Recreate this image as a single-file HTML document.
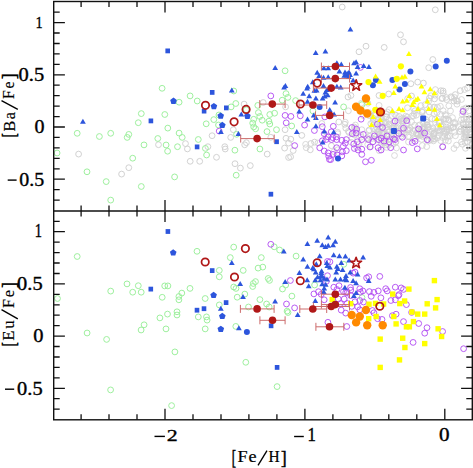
<!DOCTYPE html>
<html><head><meta charset="utf-8"><style>
html,body{margin:0;padding:0;background:#fff;}
body{width:473px;height:468px;overflow:hidden;font-family:"Liberation Serif",serif;}
svg{display:block;}
</style></head><body>
<svg width="473" height="468" viewBox="0 0 473 468">
<rect width="473" height="468" fill="#fff"/>
<defs><clipPath id="cu"><rect x="53.7" y="1.5" width="418.6" height="209.5"/></clipPath><clipPath id="cl"><rect x="53.7" y="211.0" width="418.6" height="208.8"/></clipPath></defs>
<path d="M81.1 1.5v5.5M81.1 211.0v-5.5M81.1 211.0v5.5M81.1 419.8v-5.5M109.0 1.5v5.5M109.0 211.0v-5.5M109.0 211.0v5.5M109.0 419.8v-5.5M137.0 1.5v5.5M137.0 211.0v-5.5M137.0 211.0v5.5M137.0 419.8v-5.5M165.0 1.5v11M165.0 211.0v-11M165.0 211.0v11M165.0 419.8v-11M193.0 1.5v5.5M193.0 211.0v-5.5M193.0 211.0v5.5M193.0 419.8v-5.5M221.0 1.5v5.5M221.0 211.0v-5.5M221.0 211.0v5.5M221.0 419.8v-5.5M248.9 1.5v5.5M248.9 211.0v-5.5M248.9 211.0v5.5M248.9 419.8v-5.5M276.9 1.5v5.5M276.9 211.0v-5.5M276.9 211.0v5.5M276.9 419.8v-5.5M304.9 1.5v11M304.9 211.0v-11M304.9 211.0v11M304.9 419.8v-11M332.9 1.5v5.5M332.9 211.0v-5.5M332.9 211.0v5.5M332.9 419.8v-5.5M360.9 1.5v5.5M360.9 211.0v-5.5M360.9 211.0v5.5M360.9 419.8v-5.5M388.8 1.5v5.5M388.8 211.0v-5.5M388.8 211.0v5.5M388.8 419.8v-5.5M416.8 1.5v5.5M416.8 211.0v-5.5M416.8 211.0v5.5M416.8 419.8v-5.5M444.8 1.5v11M444.8 211.0v-11M444.8 211.0v11M444.8 419.8v-11M53.7 200.1h6.0M472.3 200.1h-6.0M53.7 189.6h6.0M472.3 189.6h-6.0M53.7 179.2h11.2M472.3 179.2h-11.2M53.7 168.8h6.0M472.3 168.8h-6.0M53.7 158.3h6.0M472.3 158.3h-6.0M53.7 147.9h6.0M472.3 147.9h-6.0M53.7 137.4h6.0M472.3 137.4h-6.0M53.7 127.0h11.2M472.3 127.0h-11.2M53.7 116.6h6.0M472.3 116.6h-6.0M53.7 106.1h6.0M472.3 106.1h-6.0M53.7 95.7h6.0M472.3 95.7h-6.0M53.7 85.2h6.0M472.3 85.2h-6.0M53.7 74.8h11.2M472.3 74.8h-11.2M53.7 64.4h6.0M472.3 64.4h-6.0M53.7 53.9h6.0M472.3 53.9h-6.0M53.7 43.5h6.0M472.3 43.5h-6.0M53.7 33.0h6.0M472.3 33.0h-6.0M53.7 22.6h11.2M472.3 22.6h-11.2M53.7 12.2h6.0M472.3 12.2h-6.0M53.7 409.2h6.0M472.3 409.2h-6.0M53.7 398.7h6.0M472.3 398.7h-6.0M53.7 388.3h11.2M472.3 388.3h-11.2M53.7 377.9h6.0M472.3 377.9h-6.0M53.7 367.4h6.0M472.3 367.4h-6.0M53.7 357.0h6.0M472.3 357.0h-6.0M53.7 346.5h6.0M472.3 346.5h-6.0M53.7 336.1h11.2M472.3 336.1h-11.2M53.7 325.7h6.0M472.3 325.7h-6.0M53.7 315.2h6.0M472.3 315.2h-6.0M53.7 304.8h6.0M472.3 304.8h-6.0M53.7 294.3h6.0M472.3 294.3h-6.0M53.7 283.9h11.2M472.3 283.9h-11.2M53.7 273.5h6.0M472.3 273.5h-6.0M53.7 263.0h6.0M472.3 263.0h-6.0M53.7 252.6h6.0M472.3 252.6h-6.0M53.7 242.1h6.0M472.3 242.1h-6.0M53.7 231.7h11.2M472.3 231.7h-11.2M53.7 221.3h6.0M472.3 221.3h-6.0" stroke="#111" stroke-width="1.3" fill="none"/>
<g clip-path="url(#cu)">
<circle cx="422.0" cy="111.7" r="2.9" fill="none" stroke="#d2d2d2" stroke-width="0.85"/>
<circle cx="423.4" cy="122.7" r="2.9" fill="none" stroke="#d2d2d2" stroke-width="0.85"/>
<circle cx="427.6" cy="125.3" r="2.9" fill="none" stroke="#d2d2d2" stroke-width="0.85"/>
<circle cx="428.0" cy="127.1" r="2.9" fill="none" stroke="#d2d2d2" stroke-width="0.85"/>
<circle cx="439.6" cy="131.4" r="2.9" fill="none" stroke="#d2d2d2" stroke-width="0.85"/>
<circle cx="406.5" cy="125.4" r="2.9" fill="none" stroke="#d2d2d2" stroke-width="0.85"/>
<circle cx="381.8" cy="132.9" r="2.9" fill="none" stroke="#d2d2d2" stroke-width="0.85"/>
<circle cx="375.1" cy="115.6" r="2.9" fill="none" stroke="#d2d2d2" stroke-width="0.85"/>
<circle cx="472.4" cy="143.8" r="2.9" fill="none" stroke="#d2d2d2" stroke-width="0.85"/>
<circle cx="438.2" cy="127.6" r="2.9" fill="none" stroke="#d2d2d2" stroke-width="0.85"/>
<circle cx="390.0" cy="138.8" r="2.9" fill="none" stroke="#d2d2d2" stroke-width="0.85"/>
<circle cx="377.6" cy="128.9" r="2.9" fill="none" stroke="#d2d2d2" stroke-width="0.85"/>
<circle cx="393.9" cy="128.7" r="2.9" fill="none" stroke="#d2d2d2" stroke-width="0.85"/>
<circle cx="423.2" cy="131.8" r="2.9" fill="none" stroke="#d2d2d2" stroke-width="0.85"/>
<circle cx="420.8" cy="135.3" r="2.9" fill="none" stroke="#d2d2d2" stroke-width="0.85"/>
<circle cx="440.6" cy="121.8" r="2.9" fill="none" stroke="#d2d2d2" stroke-width="0.85"/>
<circle cx="426.8" cy="125.0" r="2.9" fill="none" stroke="#d2d2d2" stroke-width="0.85"/>
<circle cx="403.7" cy="120.9" r="2.9" fill="none" stroke="#d2d2d2" stroke-width="0.85"/>
<circle cx="473.8" cy="148.0" r="2.9" fill="none" stroke="#d2d2d2" stroke-width="0.85"/>
<circle cx="447.0" cy="130.2" r="2.9" fill="none" stroke="#d2d2d2" stroke-width="0.85"/>
<circle cx="407.7" cy="130.0" r="2.9" fill="none" stroke="#d2d2d2" stroke-width="0.85"/>
<circle cx="379.1" cy="134.9" r="2.9" fill="none" stroke="#d2d2d2" stroke-width="0.85"/>
<circle cx="452.5" cy="117.6" r="2.9" fill="none" stroke="#d2d2d2" stroke-width="0.85"/>
<circle cx="415.2" cy="139.1" r="2.9" fill="none" stroke="#d2d2d2" stroke-width="0.85"/>
<circle cx="470.2" cy="131.8" r="2.9" fill="none" stroke="#d2d2d2" stroke-width="0.85"/>
<circle cx="396.1" cy="128.4" r="2.9" fill="none" stroke="#d2d2d2" stroke-width="0.85"/>
<circle cx="465.9" cy="108.0" r="2.9" fill="none" stroke="#d2d2d2" stroke-width="0.85"/>
<circle cx="416.4" cy="133.9" r="2.9" fill="none" stroke="#d2d2d2" stroke-width="0.85"/>
<circle cx="379.5" cy="117.8" r="2.9" fill="none" stroke="#d2d2d2" stroke-width="0.85"/>
<circle cx="402.8" cy="118.2" r="2.9" fill="none" stroke="#d2d2d2" stroke-width="0.85"/>
<circle cx="381.3" cy="117.2" r="2.9" fill="none" stroke="#d2d2d2" stroke-width="0.85"/>
<circle cx="385.2" cy="128.3" r="2.9" fill="none" stroke="#d2d2d2" stroke-width="0.85"/>
<circle cx="377.7" cy="131.8" r="2.9" fill="none" stroke="#d2d2d2" stroke-width="0.85"/>
<circle cx="455.4" cy="135.8" r="2.9" fill="none" stroke="#d2d2d2" stroke-width="0.85"/>
<circle cx="421.5" cy="139.4" r="2.9" fill="none" stroke="#d2d2d2" stroke-width="0.85"/>
<circle cx="393.9" cy="128.0" r="2.9" fill="none" stroke="#d2d2d2" stroke-width="0.85"/>
<circle cx="440.9" cy="126.0" r="2.9" fill="none" stroke="#d2d2d2" stroke-width="0.85"/>
<circle cx="385.0" cy="123.0" r="2.9" fill="none" stroke="#d2d2d2" stroke-width="0.85"/>
<circle cx="402.8" cy="131.7" r="2.9" fill="none" stroke="#d2d2d2" stroke-width="0.85"/>
<circle cx="471.4" cy="134.0" r="2.9" fill="none" stroke="#d2d2d2" stroke-width="0.85"/>
<circle cx="463.5" cy="124.5" r="2.9" fill="none" stroke="#d2d2d2" stroke-width="0.85"/>
<circle cx="396.2" cy="115.5" r="2.9" fill="none" stroke="#d2d2d2" stroke-width="0.85"/>
<circle cx="440.7" cy="140.7" r="2.9" fill="none" stroke="#d2d2d2" stroke-width="0.85"/>
<circle cx="383.0" cy="134.0" r="2.9" fill="none" stroke="#d2d2d2" stroke-width="0.85"/>
<circle cx="401.5" cy="128.5" r="2.9" fill="none" stroke="#d2d2d2" stroke-width="0.85"/>
<circle cx="453.1" cy="127.5" r="2.9" fill="none" stroke="#d2d2d2" stroke-width="0.85"/>
<circle cx="379.5" cy="134.2" r="2.9" fill="none" stroke="#d2d2d2" stroke-width="0.85"/>
<circle cx="381.7" cy="122.6" r="2.9" fill="none" stroke="#d2d2d2" stroke-width="0.85"/>
<circle cx="436.8" cy="127.1" r="2.9" fill="none" stroke="#d2d2d2" stroke-width="0.85"/>
<circle cx="413.7" cy="108.8" r="2.9" fill="none" stroke="#d2d2d2" stroke-width="0.85"/>
<circle cx="425.2" cy="136.0" r="2.9" fill="none" stroke="#d2d2d2" stroke-width="0.85"/>
<circle cx="434.2" cy="133.8" r="2.9" fill="none" stroke="#d2d2d2" stroke-width="0.85"/>
<circle cx="389.6" cy="124.4" r="2.9" fill="none" stroke="#d2d2d2" stroke-width="0.85"/>
<circle cx="465.7" cy="134.1" r="2.9" fill="none" stroke="#d2d2d2" stroke-width="0.85"/>
<circle cx="393.8" cy="122.7" r="2.9" fill="none" stroke="#d2d2d2" stroke-width="0.85"/>
<circle cx="450.0" cy="136.0" r="2.9" fill="none" stroke="#d2d2d2" stroke-width="0.85"/>
<circle cx="469.5" cy="129.5" r="2.9" fill="none" stroke="#d2d2d2" stroke-width="0.85"/>
<circle cx="463.3" cy="124.3" r="2.9" fill="none" stroke="#d2d2d2" stroke-width="0.85"/>
<circle cx="383.5" cy="122.8" r="2.9" fill="none" stroke="#d2d2d2" stroke-width="0.85"/>
<circle cx="374.7" cy="133.9" r="2.9" fill="none" stroke="#d2d2d2" stroke-width="0.85"/>
<circle cx="446.7" cy="129.2" r="2.9" fill="none" stroke="#d2d2d2" stroke-width="0.85"/>
<circle cx="401.4" cy="134.0" r="2.9" fill="none" stroke="#d2d2d2" stroke-width="0.85"/>
<circle cx="405.4" cy="118.8" r="2.9" fill="none" stroke="#d2d2d2" stroke-width="0.85"/>
<circle cx="392.1" cy="127.9" r="2.9" fill="none" stroke="#d2d2d2" stroke-width="0.85"/>
<circle cx="398.2" cy="125.6" r="2.9" fill="none" stroke="#d2d2d2" stroke-width="0.85"/>
<circle cx="432.7" cy="137.1" r="2.9" fill="none" stroke="#d2d2d2" stroke-width="0.85"/>
<circle cx="403.9" cy="119.6" r="2.9" fill="none" stroke="#d2d2d2" stroke-width="0.85"/>
<circle cx="466.5" cy="131.9" r="2.9" fill="none" stroke="#d2d2d2" stroke-width="0.85"/>
<circle cx="402.7" cy="130.4" r="2.9" fill="none" stroke="#d2d2d2" stroke-width="0.85"/>
<circle cx="421.3" cy="134.6" r="2.9" fill="none" stroke="#d2d2d2" stroke-width="0.85"/>
<circle cx="413.4" cy="131.3" r="2.9" fill="none" stroke="#d2d2d2" stroke-width="0.85"/>
<circle cx="433.9" cy="135.6" r="2.9" fill="none" stroke="#d2d2d2" stroke-width="0.85"/>
<circle cx="464.1" cy="137.3" r="2.9" fill="none" stroke="#d2d2d2" stroke-width="0.85"/>
<circle cx="472.2" cy="124.5" r="2.9" fill="none" stroke="#d2d2d2" stroke-width="0.85"/>
<circle cx="435.1" cy="119.3" r="2.9" fill="none" stroke="#d2d2d2" stroke-width="0.85"/>
<circle cx="388.0" cy="129.9" r="2.9" fill="none" stroke="#d2d2d2" stroke-width="0.85"/>
<circle cx="465.9" cy="131.8" r="2.9" fill="none" stroke="#d2d2d2" stroke-width="0.85"/>
<circle cx="446.4" cy="132.4" r="2.9" fill="none" stroke="#d2d2d2" stroke-width="0.85"/>
<circle cx="440.2" cy="130.0" r="2.9" fill="none" stroke="#d2d2d2" stroke-width="0.85"/>
<circle cx="425.0" cy="128.9" r="2.9" fill="none" stroke="#d2d2d2" stroke-width="0.85"/>
<circle cx="473.9" cy="124.4" r="2.9" fill="none" stroke="#d2d2d2" stroke-width="0.85"/>
<circle cx="379.8" cy="114.7" r="2.9" fill="none" stroke="#d2d2d2" stroke-width="0.85"/>
<circle cx="464.9" cy="127.4" r="2.9" fill="none" stroke="#d2d2d2" stroke-width="0.85"/>
<circle cx="449.8" cy="126.5" r="2.9" fill="none" stroke="#d2d2d2" stroke-width="0.85"/>
<circle cx="466.3" cy="117.0" r="2.9" fill="none" stroke="#d2d2d2" stroke-width="0.85"/>
<circle cx="411.6" cy="122.0" r="2.9" fill="none" stroke="#d2d2d2" stroke-width="0.85"/>
<circle cx="462.3" cy="114.5" r="2.9" fill="none" stroke="#d2d2d2" stroke-width="0.85"/>
<circle cx="418.4" cy="133.8" r="2.9" fill="none" stroke="#d2d2d2" stroke-width="0.85"/>
<circle cx="434.0" cy="113.7" r="2.9" fill="none" stroke="#d2d2d2" stroke-width="0.85"/>
<circle cx="439.1" cy="122.1" r="2.9" fill="none" stroke="#d2d2d2" stroke-width="0.85"/>
<circle cx="437.5" cy="137.9" r="2.9" fill="none" stroke="#d2d2d2" stroke-width="0.85"/>
<circle cx="380.4" cy="110.8" r="2.9" fill="none" stroke="#d2d2d2" stroke-width="0.85"/>
<circle cx="463.1" cy="110.7" r="2.9" fill="none" stroke="#d2d2d2" stroke-width="0.85"/>
<circle cx="449.0" cy="120.2" r="2.9" fill="none" stroke="#d2d2d2" stroke-width="0.85"/>
<circle cx="434.8" cy="139.1" r="2.9" fill="none" stroke="#d2d2d2" stroke-width="0.85"/>
<circle cx="420.8" cy="131.5" r="2.9" fill="none" stroke="#d2d2d2" stroke-width="0.85"/>
<circle cx="451.0" cy="127.8" r="2.9" fill="none" stroke="#d2d2d2" stroke-width="0.85"/>
<circle cx="373.3" cy="119.9" r="2.9" fill="none" stroke="#d2d2d2" stroke-width="0.85"/>
<circle cx="398.4" cy="123.0" r="2.9" fill="none" stroke="#d2d2d2" stroke-width="0.85"/>
<circle cx="446.1" cy="118.9" r="2.9" fill="none" stroke="#d2d2d2" stroke-width="0.85"/>
<circle cx="466.8" cy="131.7" r="2.9" fill="none" stroke="#d2d2d2" stroke-width="0.85"/>
<circle cx="401.3" cy="136.0" r="2.9" fill="none" stroke="#d2d2d2" stroke-width="0.85"/>
<circle cx="444.2" cy="131.1" r="2.9" fill="none" stroke="#d2d2d2" stroke-width="0.85"/>
<circle cx="395.3" cy="137.6" r="2.9" fill="none" stroke="#d2d2d2" stroke-width="0.85"/>
<circle cx="442.5" cy="146.7" r="2.9" fill="none" stroke="#d2d2d2" stroke-width="0.85"/>
<circle cx="420.9" cy="135.5" r="2.9" fill="none" stroke="#d2d2d2" stroke-width="0.85"/>
<circle cx="443.0" cy="125.8" r="2.9" fill="none" stroke="#d2d2d2" stroke-width="0.85"/>
<circle cx="394.8" cy="114.6" r="2.9" fill="none" stroke="#d2d2d2" stroke-width="0.85"/>
<circle cx="466.2" cy="137.9" r="2.9" fill="none" stroke="#d2d2d2" stroke-width="0.85"/>
<circle cx="463.1" cy="122.9" r="2.9" fill="none" stroke="#d2d2d2" stroke-width="0.85"/>
<circle cx="407.9" cy="136.6" r="2.9" fill="none" stroke="#d2d2d2" stroke-width="0.85"/>
<circle cx="387.5" cy="112.1" r="2.9" fill="none" stroke="#d2d2d2" stroke-width="0.85"/>
<circle cx="460.2" cy="131.6" r="2.9" fill="none" stroke="#d2d2d2" stroke-width="0.85"/>
<circle cx="447.3" cy="137.2" r="2.9" fill="none" stroke="#d2d2d2" stroke-width="0.85"/>
<circle cx="391.4" cy="126.3" r="2.9" fill="none" stroke="#d2d2d2" stroke-width="0.85"/>
<circle cx="421.8" cy="128.7" r="2.9" fill="none" stroke="#d2d2d2" stroke-width="0.85"/>
<circle cx="418.1" cy="135.3" r="2.9" fill="none" stroke="#d2d2d2" stroke-width="0.85"/>
<circle cx="439.2" cy="123.0" r="2.9" fill="none" stroke="#d2d2d2" stroke-width="0.85"/>
<circle cx="459.3" cy="131.5" r="2.9" fill="none" stroke="#d2d2d2" stroke-width="0.85"/>
<circle cx="472.4" cy="128.5" r="2.9" fill="none" stroke="#d2d2d2" stroke-width="0.85"/>
<circle cx="373.6" cy="128.7" r="2.9" fill="none" stroke="#d2d2d2" stroke-width="0.85"/>
<circle cx="462.4" cy="144.2" r="2.9" fill="none" stroke="#d2d2d2" stroke-width="0.85"/>
<circle cx="433.8" cy="133.6" r="2.9" fill="none" stroke="#d2d2d2" stroke-width="0.85"/>
<circle cx="407.1" cy="129.5" r="2.9" fill="none" stroke="#d2d2d2" stroke-width="0.85"/>
<circle cx="387.4" cy="126.7" r="2.9" fill="none" stroke="#d2d2d2" stroke-width="0.85"/>
<circle cx="422.3" cy="145.5" r="2.9" fill="none" stroke="#d2d2d2" stroke-width="0.85"/>
<circle cx="399.2" cy="131.2" r="2.9" fill="none" stroke="#d2d2d2" stroke-width="0.85"/>
<circle cx="388.0" cy="139.8" r="2.9" fill="none" stroke="#d2d2d2" stroke-width="0.85"/>
<circle cx="421.4" cy="133.1" r="2.9" fill="none" stroke="#d2d2d2" stroke-width="0.85"/>
<circle cx="439.6" cy="121.7" r="2.9" fill="none" stroke="#d2d2d2" stroke-width="0.85"/>
<circle cx="470.2" cy="118.8" r="2.9" fill="none" stroke="#d2d2d2" stroke-width="0.85"/>
<circle cx="444.8" cy="133.6" r="2.9" fill="none" stroke="#d2d2d2" stroke-width="0.85"/>
<circle cx="392.5" cy="137.7" r="2.9" fill="none" stroke="#d2d2d2" stroke-width="0.85"/>
<circle cx="370.3" cy="114.4" r="2.9" fill="none" stroke="#d2d2d2" stroke-width="0.85"/>
<circle cx="392.6" cy="130.8" r="2.9" fill="none" stroke="#d2d2d2" stroke-width="0.85"/>
<circle cx="403.1" cy="121.5" r="2.9" fill="none" stroke="#d2d2d2" stroke-width="0.85"/>
<circle cx="428.8" cy="140.8" r="2.9" fill="none" stroke="#d2d2d2" stroke-width="0.85"/>
<circle cx="438.1" cy="130.7" r="2.9" fill="none" stroke="#d2d2d2" stroke-width="0.85"/>
<circle cx="454.9" cy="122.5" r="2.9" fill="none" stroke="#d2d2d2" stroke-width="0.85"/>
<circle cx="465.5" cy="148.3" r="2.9" fill="none" stroke="#d2d2d2" stroke-width="0.85"/>
<circle cx="448.4" cy="141.0" r="2.9" fill="none" stroke="#d2d2d2" stroke-width="0.85"/>
<circle cx="386.7" cy="116.9" r="2.9" fill="none" stroke="#d2d2d2" stroke-width="0.85"/>
<circle cx="465.8" cy="134.9" r="2.9" fill="none" stroke="#d2d2d2" stroke-width="0.85"/>
<circle cx="414.2" cy="113.5" r="2.9" fill="none" stroke="#d2d2d2" stroke-width="0.85"/>
<circle cx="455.4" cy="123.7" r="2.9" fill="none" stroke="#d2d2d2" stroke-width="0.85"/>
<circle cx="469.0" cy="119.5" r="2.9" fill="none" stroke="#d2d2d2" stroke-width="0.85"/>
<circle cx="395.5" cy="131.4" r="2.9" fill="none" stroke="#d2d2d2" stroke-width="0.85"/>
<circle cx="448.4" cy="135.8" r="2.9" fill="none" stroke="#d2d2d2" stroke-width="0.85"/>
<circle cx="448.0" cy="119.6" r="2.9" fill="none" stroke="#d2d2d2" stroke-width="0.85"/>
<circle cx="396.5" cy="148.0" r="2.9" fill="none" stroke="#d2d2d2" stroke-width="0.85"/>
<circle cx="472.0" cy="117.7" r="2.9" fill="none" stroke="#d2d2d2" stroke-width="0.85"/>
<circle cx="430.5" cy="131.9" r="2.9" fill="none" stroke="#d2d2d2" stroke-width="0.85"/>
<circle cx="465.8" cy="124.2" r="2.9" fill="none" stroke="#d2d2d2" stroke-width="0.85"/>
<circle cx="460.9" cy="129.2" r="2.9" fill="none" stroke="#d2d2d2" stroke-width="0.85"/>
<circle cx="420.8" cy="132.5" r="2.9" fill="none" stroke="#d2d2d2" stroke-width="0.85"/>
<circle cx="431.8" cy="131.2" r="2.9" fill="none" stroke="#d2d2d2" stroke-width="0.85"/>
<circle cx="373.1" cy="118.0" r="2.9" fill="none" stroke="#d2d2d2" stroke-width="0.85"/>
<circle cx="456.5" cy="145.1" r="2.9" fill="none" stroke="#d2d2d2" stroke-width="0.85"/>
<circle cx="391.8" cy="134.4" r="2.9" fill="none" stroke="#d2d2d2" stroke-width="0.85"/>
<circle cx="409.8" cy="130.3" r="2.9" fill="none" stroke="#d2d2d2" stroke-width="0.85"/>
<circle cx="389.0" cy="123.8" r="2.9" fill="none" stroke="#d2d2d2" stroke-width="0.85"/>
<circle cx="428.5" cy="127.2" r="2.9" fill="none" stroke="#d2d2d2" stroke-width="0.85"/>
<circle cx="445.3" cy="114.6" r="2.9" fill="none" stroke="#d2d2d2" stroke-width="0.85"/>
<circle cx="469.1" cy="110.8" r="2.9" fill="none" stroke="#d2d2d2" stroke-width="0.85"/>
<circle cx="381.2" cy="129.0" r="2.9" fill="none" stroke="#d2d2d2" stroke-width="0.85"/>
<circle cx="397.4" cy="121.8" r="2.9" fill="none" stroke="#d2d2d2" stroke-width="0.85"/>
<circle cx="449.0" cy="129.6" r="2.9" fill="none" stroke="#d2d2d2" stroke-width="0.85"/>
<circle cx="440.4" cy="114.2" r="2.9" fill="none" stroke="#d2d2d2" stroke-width="0.85"/>
<circle cx="432.8" cy="127.8" r="2.9" fill="none" stroke="#d2d2d2" stroke-width="0.85"/>
<circle cx="407.4" cy="117.0" r="2.9" fill="none" stroke="#d2d2d2" stroke-width="0.85"/>
<circle cx="465.0" cy="142.5" r="2.9" fill="none" stroke="#d2d2d2" stroke-width="0.85"/>
<circle cx="395.9" cy="141.9" r="2.9" fill="none" stroke="#d2d2d2" stroke-width="0.85"/>
<circle cx="429.2" cy="112.0" r="2.9" fill="none" stroke="#d2d2d2" stroke-width="0.85"/>
<circle cx="434.0" cy="133.4" r="2.9" fill="none" stroke="#d2d2d2" stroke-width="0.85"/>
<circle cx="427.1" cy="139.9" r="2.9" fill="none" stroke="#d2d2d2" stroke-width="0.85"/>
<circle cx="428.4" cy="133.8" r="2.9" fill="none" stroke="#d2d2d2" stroke-width="0.85"/>
<circle cx="416.7" cy="132.9" r="2.9" fill="none" stroke="#d2d2d2" stroke-width="0.85"/>
<circle cx="425.9" cy="119.5" r="2.9" fill="none" stroke="#d2d2d2" stroke-width="0.85"/>
<circle cx="445.4" cy="140.3" r="2.9" fill="none" stroke="#d2d2d2" stroke-width="0.85"/>
<circle cx="418.1" cy="133.8" r="2.9" fill="none" stroke="#d2d2d2" stroke-width="0.85"/>
<circle cx="470.1" cy="137.6" r="2.9" fill="none" stroke="#d2d2d2" stroke-width="0.85"/>
<circle cx="424.1" cy="126.6" r="2.9" fill="none" stroke="#d2d2d2" stroke-width="0.85"/>
<circle cx="386.3" cy="114.0" r="2.9" fill="none" stroke="#d2d2d2" stroke-width="0.85"/>
<circle cx="465.0" cy="137.7" r="2.9" fill="none" stroke="#d2d2d2" stroke-width="0.85"/>
<circle cx="424.5" cy="127.5" r="2.9" fill="none" stroke="#d2d2d2" stroke-width="0.85"/>
<circle cx="438.4" cy="135.4" r="2.9" fill="none" stroke="#d2d2d2" stroke-width="0.85"/>
<circle cx="467.2" cy="141.6" r="2.9" fill="none" stroke="#d2d2d2" stroke-width="0.85"/>
<circle cx="372.3" cy="138.4" r="2.9" fill="none" stroke="#d2d2d2" stroke-width="0.85"/>
<circle cx="394.3" cy="130.4" r="2.9" fill="none" stroke="#d2d2d2" stroke-width="0.85"/>
<circle cx="408.5" cy="142.0" r="2.9" fill="none" stroke="#d2d2d2" stroke-width="0.85"/>
<circle cx="401.4" cy="118.8" r="2.9" fill="none" stroke="#d2d2d2" stroke-width="0.85"/>
<circle cx="445.4" cy="119.2" r="2.9" fill="none" stroke="#d2d2d2" stroke-width="0.85"/>
<circle cx="369.1" cy="112.6" r="2.9" fill="none" stroke="#d2d2d2" stroke-width="0.85"/>
<circle cx="380.3" cy="123.3" r="2.9" fill="none" stroke="#d2d2d2" stroke-width="0.85"/>
<circle cx="422.7" cy="110.6" r="2.9" fill="none" stroke="#d2d2d2" stroke-width="0.85"/>
<circle cx="408.6" cy="129.6" r="2.9" fill="none" stroke="#d2d2d2" stroke-width="0.85"/>
<circle cx="422.6" cy="129.4" r="2.9" fill="none" stroke="#d2d2d2" stroke-width="0.85"/>
<circle cx="434.3" cy="132.6" r="2.9" fill="none" stroke="#d2d2d2" stroke-width="0.85"/>
<circle cx="435.1" cy="95.2" r="2.9" fill="none" stroke="#d2d2d2" stroke-width="0.85"/>
<circle cx="432.1" cy="118.6" r="2.9" fill="none" stroke="#d2d2d2" stroke-width="0.85"/>
<circle cx="459.0" cy="126.7" r="2.9" fill="none" stroke="#d2d2d2" stroke-width="0.85"/>
<circle cx="454.0" cy="148.5" r="2.9" fill="none" stroke="#d2d2d2" stroke-width="0.85"/>
<circle cx="463.9" cy="118.8" r="2.9" fill="none" stroke="#d2d2d2" stroke-width="0.85"/>
<circle cx="466.0" cy="135.9" r="2.9" fill="none" stroke="#d2d2d2" stroke-width="0.85"/>
<circle cx="370.8" cy="123.7" r="2.9" fill="none" stroke="#d2d2d2" stroke-width="0.85"/>
<circle cx="386.1" cy="122.3" r="2.9" fill="none" stroke="#d2d2d2" stroke-width="0.85"/>
<circle cx="365.0" cy="112.5" r="2.9" fill="none" stroke="#d2d2d2" stroke-width="0.85"/>
<circle cx="456.4" cy="100.6" r="2.9" fill="none" stroke="#d2d2d2" stroke-width="0.85"/>
<circle cx="369.6" cy="136.5" r="2.9" fill="none" stroke="#d2d2d2" stroke-width="0.85"/>
<circle cx="407.3" cy="122.9" r="2.9" fill="none" stroke="#d2d2d2" stroke-width="0.85"/>
<circle cx="380.7" cy="121.4" r="2.9" fill="none" stroke="#d2d2d2" stroke-width="0.85"/>
<circle cx="367.9" cy="103.2" r="2.9" fill="none" stroke="#d2d2d2" stroke-width="0.85"/>
<circle cx="419.8" cy="124.9" r="2.9" fill="none" stroke="#d2d2d2" stroke-width="0.85"/>
<circle cx="440.4" cy="106.3" r="2.9" fill="none" stroke="#d2d2d2" stroke-width="0.85"/>
<circle cx="379.0" cy="130.4" r="2.9" fill="none" stroke="#d2d2d2" stroke-width="0.85"/>
<circle cx="354.3" cy="127.0" r="2.9" fill="none" stroke="#d2d2d2" stroke-width="0.85"/>
<circle cx="425.2" cy="104.6" r="2.9" fill="none" stroke="#d2d2d2" stroke-width="0.85"/>
<circle cx="372.8" cy="122.2" r="2.9" fill="none" stroke="#d2d2d2" stroke-width="0.85"/>
<circle cx="378.4" cy="132.2" r="2.9" fill="none" stroke="#d2d2d2" stroke-width="0.85"/>
<circle cx="466.4" cy="128.4" r="2.9" fill="none" stroke="#d2d2d2" stroke-width="0.85"/>
<circle cx="469.0" cy="127.0" r="2.9" fill="none" stroke="#d2d2d2" stroke-width="0.85"/>
<circle cx="414.6" cy="125.2" r="2.9" fill="none" stroke="#d2d2d2" stroke-width="0.85"/>
<circle cx="415.1" cy="110.7" r="2.9" fill="none" stroke="#d2d2d2" stroke-width="0.85"/>
<circle cx="420.9" cy="105.6" r="2.9" fill="none" stroke="#d2d2d2" stroke-width="0.85"/>
<circle cx="349.1" cy="132.6" r="2.9" fill="none" stroke="#d2d2d2" stroke-width="0.85"/>
<circle cx="442.1" cy="129.3" r="2.9" fill="none" stroke="#d2d2d2" stroke-width="0.85"/>
<circle cx="413.6" cy="116.1" r="2.9" fill="none" stroke="#d2d2d2" stroke-width="0.85"/>
<circle cx="446.3" cy="115.8" r="2.9" fill="none" stroke="#d2d2d2" stroke-width="0.85"/>
<circle cx="375.5" cy="129.5" r="2.9" fill="none" stroke="#d2d2d2" stroke-width="0.85"/>
<circle cx="453.1" cy="127.1" r="2.9" fill="none" stroke="#d2d2d2" stroke-width="0.85"/>
<circle cx="442.5" cy="137.5" r="2.9" fill="none" stroke="#d2d2d2" stroke-width="0.85"/>
<circle cx="407.5" cy="107.8" r="2.9" fill="none" stroke="#d2d2d2" stroke-width="0.85"/>
<circle cx="453.4" cy="122.8" r="2.9" fill="none" stroke="#d2d2d2" stroke-width="0.85"/>
<circle cx="388.7" cy="145.0" r="2.9" fill="none" stroke="#d2d2d2" stroke-width="0.85"/>
<circle cx="450.5" cy="110.9" r="2.9" fill="none" stroke="#d2d2d2" stroke-width="0.85"/>
<circle cx="454.5" cy="97.5" r="2.9" fill="none" stroke="#d2d2d2" stroke-width="0.85"/>
<circle cx="461.4" cy="141.9" r="2.9" fill="none" stroke="#d2d2d2" stroke-width="0.85"/>
<circle cx="441.4" cy="126.8" r="2.9" fill="none" stroke="#d2d2d2" stroke-width="0.85"/>
<circle cx="407.7" cy="98.6" r="2.9" fill="none" stroke="#d2d2d2" stroke-width="0.85"/>
<circle cx="444.5" cy="136.4" r="2.9" fill="none" stroke="#d2d2d2" stroke-width="0.85"/>
<circle cx="415.4" cy="129.9" r="2.9" fill="none" stroke="#d2d2d2" stroke-width="0.85"/>
<circle cx="348.4" cy="110.8" r="2.9" fill="none" stroke="#d2d2d2" stroke-width="0.85"/>
<circle cx="433.5" cy="140.9" r="2.9" fill="none" stroke="#d2d2d2" stroke-width="0.85"/>
<circle cx="385.1" cy="144.9" r="2.9" fill="none" stroke="#d2d2d2" stroke-width="0.85"/>
<circle cx="399.1" cy="116.4" r="2.9" fill="none" stroke="#d2d2d2" stroke-width="0.85"/>
<circle cx="437.5" cy="107.2" r="2.9" fill="none" stroke="#d2d2d2" stroke-width="0.85"/>
<circle cx="405.7" cy="116.2" r="2.9" fill="none" stroke="#d2d2d2" stroke-width="0.85"/>
<circle cx="474.0" cy="109.4" r="2.9" fill="none" stroke="#d2d2d2" stroke-width="0.85"/>
<circle cx="448.8" cy="105.8" r="2.9" fill="none" stroke="#d2d2d2" stroke-width="0.85"/>
<circle cx="471.9" cy="144.5" r="2.9" fill="none" stroke="#d2d2d2" stroke-width="0.85"/>
<circle cx="446.3" cy="127.0" r="2.9" fill="none" stroke="#d2d2d2" stroke-width="0.85"/>
<circle cx="388.5" cy="120.1" r="2.9" fill="none" stroke="#d2d2d2" stroke-width="0.85"/>
<circle cx="379.9" cy="126.8" r="2.9" fill="none" stroke="#d2d2d2" stroke-width="0.85"/>
<circle cx="403.9" cy="133.3" r="2.9" fill="none" stroke="#d2d2d2" stroke-width="0.85"/>
<circle cx="464.2" cy="130.6" r="2.9" fill="none" stroke="#d2d2d2" stroke-width="0.85"/>
<circle cx="427.0" cy="122.1" r="2.9" fill="none" stroke="#d2d2d2" stroke-width="0.85"/>
<circle cx="473.5" cy="106.3" r="2.9" fill="none" stroke="#d2d2d2" stroke-width="0.85"/>
<circle cx="361.4" cy="103.2" r="2.9" fill="none" stroke="#d2d2d2" stroke-width="0.85"/>
<circle cx="430.4" cy="124.3" r="2.9" fill="none" stroke="#d2d2d2" stroke-width="0.85"/>
<circle cx="466.7" cy="119.4" r="2.9" fill="none" stroke="#d2d2d2" stroke-width="0.85"/>
<circle cx="374.8" cy="115.0" r="2.9" fill="none" stroke="#d2d2d2" stroke-width="0.85"/>
<circle cx="418.6" cy="125.6" r="2.9" fill="none" stroke="#d2d2d2" stroke-width="0.85"/>
<circle cx="409.5" cy="137.0" r="2.9" fill="none" stroke="#d2d2d2" stroke-width="0.85"/>
<circle cx="422.2" cy="112.3" r="2.9" fill="none" stroke="#d2d2d2" stroke-width="0.85"/>
<circle cx="392.4" cy="115.7" r="2.9" fill="none" stroke="#d2d2d2" stroke-width="0.85"/>
<circle cx="437.0" cy="112.6" r="2.9" fill="none" stroke="#d2d2d2" stroke-width="0.85"/>
<circle cx="443.8" cy="119.4" r="2.9" fill="none" stroke="#d2d2d2" stroke-width="0.85"/>
<circle cx="393.7" cy="135.2" r="2.9" fill="none" stroke="#d2d2d2" stroke-width="0.85"/>
<circle cx="355.4" cy="125.0" r="2.9" fill="none" stroke="#d2d2d2" stroke-width="0.85"/>
<circle cx="374.3" cy="124.4" r="2.9" fill="none" stroke="#d2d2d2" stroke-width="0.85"/>
<circle cx="463.3" cy="109.1" r="2.9" fill="none" stroke="#d2d2d2" stroke-width="0.85"/>
<circle cx="468.2" cy="137.9" r="2.9" fill="none" stroke="#d2d2d2" stroke-width="0.85"/>
<circle cx="361.0" cy="137.2" r="2.9" fill="none" stroke="#d2d2d2" stroke-width="0.85"/>
<circle cx="416.4" cy="115.1" r="2.9" fill="none" stroke="#d2d2d2" stroke-width="0.85"/>
<circle cx="471.2" cy="124.7" r="2.9" fill="none" stroke="#d2d2d2" stroke-width="0.85"/>
<circle cx="467.5" cy="142.2" r="2.9" fill="none" stroke="#d2d2d2" stroke-width="0.85"/>
<circle cx="454.7" cy="132.2" r="2.9" fill="none" stroke="#d2d2d2" stroke-width="0.85"/>
<circle cx="431.1" cy="139.7" r="2.9" fill="none" stroke="#d2d2d2" stroke-width="0.85"/>
<circle cx="413.8" cy="137.9" r="2.9" fill="none" stroke="#d2d2d2" stroke-width="0.85"/>
<circle cx="381.1" cy="141.4" r="2.9" fill="none" stroke="#d2d2d2" stroke-width="0.85"/>
<circle cx="369.3" cy="129.9" r="2.9" fill="none" stroke="#d2d2d2" stroke-width="0.85"/>
<circle cx="412.2" cy="115.8" r="2.9" fill="none" stroke="#d2d2d2" stroke-width="0.85"/>
<circle cx="389.2" cy="109.6" r="2.9" fill="none" stroke="#d2d2d2" stroke-width="0.85"/>
<circle cx="428.7" cy="101.2" r="2.9" fill="none" stroke="#d2d2d2" stroke-width="0.85"/>
<circle cx="422.7" cy="136.6" r="2.9" fill="none" stroke="#d2d2d2" stroke-width="0.85"/>
<circle cx="473.8" cy="147.3" r="2.9" fill="none" stroke="#d2d2d2" stroke-width="0.85"/>
<circle cx="386.0" cy="116.8" r="2.9" fill="none" stroke="#d2d2d2" stroke-width="0.85"/>
<circle cx="367.7" cy="144.5" r="2.9" fill="none" stroke="#d2d2d2" stroke-width="0.85"/>
<circle cx="433.6" cy="107.6" r="2.9" fill="none" stroke="#d2d2d2" stroke-width="0.85"/>
<circle cx="401.9" cy="120.9" r="2.9" fill="none" stroke="#d2d2d2" stroke-width="0.85"/>
<circle cx="426.7" cy="146.6" r="2.9" fill="none" stroke="#d2d2d2" stroke-width="0.85"/>
<circle cx="429.8" cy="107.2" r="2.9" fill="none" stroke="#d2d2d2" stroke-width="0.85"/>
<circle cx="379.1" cy="105.4" r="2.9" fill="none" stroke="#d2d2d2" stroke-width="0.85"/>
<circle cx="461.3" cy="119.8" r="2.9" fill="none" stroke="#d2d2d2" stroke-width="0.85"/>
<circle cx="354.7" cy="135.1" r="2.9" fill="none" stroke="#d2d2d2" stroke-width="0.85"/>
<circle cx="410.1" cy="128.4" r="2.9" fill="none" stroke="#d2d2d2" stroke-width="0.85"/>
<circle cx="433.4" cy="139.0" r="2.9" fill="none" stroke="#d2d2d2" stroke-width="0.85"/>
<circle cx="360.8" cy="135.2" r="2.9" fill="none" stroke="#d2d2d2" stroke-width="0.85"/>
<circle cx="363.2" cy="115.5" r="2.9" fill="none" stroke="#d2d2d2" stroke-width="0.85"/>
<circle cx="434.3" cy="107.0" r="2.9" fill="none" stroke="#d2d2d2" stroke-width="0.85"/>
<circle cx="443.3" cy="93.2" r="2.9" fill="none" stroke="#d2d2d2" stroke-width="0.85"/>
<circle cx="441.8" cy="98.6" r="2.9" fill="none" stroke="#d2d2d2" stroke-width="0.85"/>
<circle cx="461.5" cy="99.5" r="2.9" fill="none" stroke="#d2d2d2" stroke-width="0.85"/>
<circle cx="430.9" cy="95.7" r="2.9" fill="none" stroke="#d2d2d2" stroke-width="0.85"/>
<circle cx="464.6" cy="89.5" r="2.9" fill="none" stroke="#d2d2d2" stroke-width="0.85"/>
<circle cx="435.4" cy="89.6" r="2.9" fill="none" stroke="#d2d2d2" stroke-width="0.85"/>
<circle cx="445.8" cy="97.4" r="2.9" fill="none" stroke="#d2d2d2" stroke-width="0.85"/>
<circle cx="443.1" cy="110.7" r="2.9" fill="none" stroke="#d2d2d2" stroke-width="0.85"/>
<circle cx="457.0" cy="104.2" r="2.9" fill="none" stroke="#d2d2d2" stroke-width="0.85"/>
<circle cx="451.9" cy="97.6" r="2.9" fill="none" stroke="#d2d2d2" stroke-width="0.85"/>
<circle cx="334.1" cy="151.6" r="2.9" fill="none" stroke="#d2d2d2" stroke-width="0.85"/>
<circle cx="317.9" cy="143.0" r="2.9" fill="none" stroke="#d2d2d2" stroke-width="0.85"/>
<circle cx="306.2" cy="147.7" r="2.9" fill="none" stroke="#d2d2d2" stroke-width="0.85"/>
<circle cx="305.6" cy="144.3" r="2.9" fill="none" stroke="#d2d2d2" stroke-width="0.85"/>
<circle cx="326.3" cy="136.9" r="2.9" fill="none" stroke="#d2d2d2" stroke-width="0.85"/>
<circle cx="352.3" cy="138.3" r="2.9" fill="none" stroke="#d2d2d2" stroke-width="0.85"/>
<circle cx="384.7" cy="142.5" r="2.9" fill="none" stroke="#d2d2d2" stroke-width="0.85"/>
<circle cx="377.0" cy="139.9" r="2.9" fill="none" stroke="#d2d2d2" stroke-width="0.85"/>
<circle cx="337.6" cy="132.2" r="2.9" fill="none" stroke="#d2d2d2" stroke-width="0.85"/>
<circle cx="379.2" cy="150.6" r="2.9" fill="none" stroke="#d2d2d2" stroke-width="0.85"/>
<circle cx="351.2" cy="142.3" r="2.9" fill="none" stroke="#d2d2d2" stroke-width="0.85"/>
<circle cx="381.4" cy="143.6" r="2.9" fill="none" stroke="#d2d2d2" stroke-width="0.85"/>
<circle cx="356.9" cy="147.5" r="2.9" fill="none" stroke="#d2d2d2" stroke-width="0.85"/>
<circle cx="370.7" cy="146.5" r="2.9" fill="none" stroke="#d2d2d2" stroke-width="0.85"/>
<circle cx="394.5" cy="155.5" r="2.9" fill="none" stroke="#d2d2d2" stroke-width="0.85"/>
<circle cx="361.8" cy="129.7" r="2.9" fill="none" stroke="#d2d2d2" stroke-width="0.85"/>
<circle cx="386.6" cy="134.3" r="2.9" fill="none" stroke="#d2d2d2" stroke-width="0.85"/>
<circle cx="359.2" cy="144.4" r="2.9" fill="none" stroke="#d2d2d2" stroke-width="0.85"/>
<circle cx="395.6" cy="142.4" r="2.9" fill="none" stroke="#d2d2d2" stroke-width="0.85"/>
<circle cx="356.6" cy="132.8" r="2.9" fill="none" stroke="#d2d2d2" stroke-width="0.85"/>
<circle cx="356.9" cy="131.1" r="2.9" fill="none" stroke="#d2d2d2" stroke-width="0.85"/>
<circle cx="358.4" cy="143.8" r="2.9" fill="none" stroke="#d2d2d2" stroke-width="0.85"/>
<circle cx="345.3" cy="122.2" r="2.9" fill="none" stroke="#d2d2d2" stroke-width="0.85"/>
<circle cx="368.8" cy="130.7" r="2.9" fill="none" stroke="#d2d2d2" stroke-width="0.85"/>
<circle cx="388.9" cy="131.8" r="2.9" fill="none" stroke="#d2d2d2" stroke-width="0.85"/>
<circle cx="383.6" cy="134.8" r="2.9" fill="none" stroke="#d2d2d2" stroke-width="0.85"/>
<circle cx="391.9" cy="136.6" r="2.9" fill="none" stroke="#d2d2d2" stroke-width="0.85"/>
<circle cx="367.1" cy="138.9" r="2.9" fill="none" stroke="#d2d2d2" stroke-width="0.85"/>
<circle cx="369.0" cy="115.6" r="2.9" fill="none" stroke="#d2d2d2" stroke-width="0.85"/>
<circle cx="376.3" cy="127.4" r="2.9" fill="none" stroke="#d2d2d2" stroke-width="0.85"/>
<circle cx="386.7" cy="147.4" r="2.9" fill="none" stroke="#d2d2d2" stroke-width="0.85"/>
<circle cx="385.6" cy="141.4" r="2.9" fill="none" stroke="#d2d2d2" stroke-width="0.85"/>
<circle cx="337.7" cy="149.8" r="2.9" fill="none" stroke="#d2d2d2" stroke-width="0.85"/>
<circle cx="393.1" cy="144.2" r="2.9" fill="none" stroke="#d2d2d2" stroke-width="0.85"/>
<circle cx="337.8" cy="133.7" r="2.9" fill="none" stroke="#d2d2d2" stroke-width="0.85"/>
<circle cx="382.7" cy="133.3" r="2.9" fill="none" stroke="#d2d2d2" stroke-width="0.85"/>
<circle cx="376.1" cy="137.2" r="2.9" fill="none" stroke="#d2d2d2" stroke-width="0.85"/>
<circle cx="384.0" cy="143.3" r="2.9" fill="none" stroke="#d2d2d2" stroke-width="0.85"/>
<circle cx="367.5" cy="137.8" r="2.9" fill="none" stroke="#d2d2d2" stroke-width="0.85"/>
<circle cx="355.0" cy="128.0" r="2.9" fill="none" stroke="#d2d2d2" stroke-width="0.85"/>
<circle cx="78.6" cy="154.1" r="2.9" fill="none" stroke="#d2d2d2" stroke-width="1.0"/>
<circle cx="128.8" cy="167.7" r="2.9" fill="none" stroke="#d2d2d2" stroke-width="1.0"/>
<circle cx="121.6" cy="174.1" r="2.9" fill="none" stroke="#d2d2d2" stroke-width="1.0"/>
<circle cx="158.5" cy="144.7" r="2.9" fill="none" stroke="#d2d2d2" stroke-width="1.0"/>
<circle cx="185.5" cy="143.6" r="2.9" fill="none" stroke="#d2d2d2" stroke-width="1.0"/>
<circle cx="187.4" cy="148.9" r="2.9" fill="none" stroke="#d2d2d2" stroke-width="1.0"/>
<circle cx="207.9" cy="146.7" r="2.9" fill="none" stroke="#d2d2d2" stroke-width="1.0"/>
<circle cx="190.2" cy="161.3" r="2.9" fill="none" stroke="#d2d2d2" stroke-width="1.0"/>
<circle cx="199.7" cy="161.3" r="2.9" fill="none" stroke="#d2d2d2" stroke-width="1.0"/>
<circle cx="216.5" cy="157.3" r="2.9" fill="none" stroke="#d2d2d2" stroke-width="1.0"/>
<circle cx="212.1" cy="135.7" r="2.9" fill="none" stroke="#d2d2d2" stroke-width="1.0"/>
<circle cx="233.3" cy="129.7" r="2.9" fill="none" stroke="#d2d2d2" stroke-width="1.0"/>
<circle cx="230.7" cy="137.4" r="2.9" fill="none" stroke="#d2d2d2" stroke-width="1.0"/>
<circle cx="224.8" cy="146.7" r="2.9" fill="none" stroke="#d2d2d2" stroke-width="1.0"/>
<circle cx="225.2" cy="149.0" r="2.9" fill="none" stroke="#d2d2d2" stroke-width="1.0"/>
<circle cx="244.1" cy="104.1" r="2.9" fill="none" stroke="#d2d2d2" stroke-width="1.0"/>
<circle cx="263.2" cy="102.5" r="2.9" fill="none" stroke="#d2d2d2" stroke-width="1.0"/>
<circle cx="285.6" cy="106.9" r="2.9" fill="none" stroke="#d2d2d2" stroke-width="1.0"/>
<circle cx="285.1" cy="129.7" r="2.9" fill="none" stroke="#d2d2d2" stroke-width="1.0"/>
<circle cx="270.8" cy="137.3" r="2.9" fill="none" stroke="#d2d2d2" stroke-width="1.0"/>
<circle cx="286.0" cy="138.3" r="2.9" fill="none" stroke="#d2d2d2" stroke-width="1.0"/>
<circle cx="290.8" cy="139.2" r="2.9" fill="none" stroke="#d2d2d2" stroke-width="1.0"/>
<circle cx="288.6" cy="143.1" r="2.9" fill="none" stroke="#d2d2d2" stroke-width="1.0"/>
<circle cx="244.7" cy="144.8" r="2.9" fill="none" stroke="#d2d2d2" stroke-width="1.0"/>
<circle cx="246.4" cy="142.7" r="2.9" fill="none" stroke="#d2d2d2" stroke-width="1.0"/>
<circle cx="267.2" cy="154.1" r="2.9" fill="none" stroke="#d2d2d2" stroke-width="1.0"/>
<circle cx="284.6" cy="148.1" r="2.9" fill="none" stroke="#d2d2d2" stroke-width="1.0"/>
<circle cx="288.6" cy="157.5" r="2.9" fill="none" stroke="#d2d2d2" stroke-width="1.0"/>
<circle cx="235.0" cy="163.7" r="2.9" fill="none" stroke="#d2d2d2" stroke-width="1.0"/>
<circle cx="240.4" cy="168.1" r="2.9" fill="none" stroke="#d2d2d2" stroke-width="1.0"/>
<circle cx="250.3" cy="165.6" r="2.9" fill="none" stroke="#d2d2d2" stroke-width="1.0"/>
<circle cx="342.2" cy="7.0" r="2.9" fill="none" stroke="#d2d2d2" stroke-width="1.0"/>
<circle cx="366.0" cy="46.2" r="2.9" fill="none" stroke="#d2d2d2" stroke-width="1.0"/>
<circle cx="359.0" cy="51.8" r="2.9" fill="none" stroke="#d2d2d2" stroke-width="1.0"/>
<circle cx="403.5" cy="41.8" r="2.9" fill="none" stroke="#d2d2d2" stroke-width="1.0"/>
<circle cx="400.5" cy="34.8" r="2.9" fill="none" stroke="#d2d2d2" stroke-width="1.0"/>
<circle cx="384.2" cy="47.4" r="2.9" fill="none" stroke="#d2d2d2" stroke-width="1.0"/>
<circle cx="435.3" cy="9.8" r="2.9" fill="none" stroke="#d2d2d2" stroke-width="1.0"/>
<circle cx="432.8" cy="59.5" r="2.9" fill="none" stroke="#d2d2d2" stroke-width="1.0"/>
<circle cx="428.7" cy="67.7" r="2.9" fill="none" stroke="#d2d2d2" stroke-width="1.0"/>
<circle cx="350.9" cy="95.5" r="2.9" fill="none" stroke="#d2d2d2" stroke-width="1.0"/>
<circle cx="348.0" cy="97.0" r="2.9" fill="none" stroke="#d2d2d2" stroke-width="1.0"/>
<circle cx="388.7" cy="94.0" r="2.9" fill="none" stroke="#d2d2d2" stroke-width="1.0"/>
<circle cx="379.0" cy="95.5" r="2.9" fill="none" stroke="#d2d2d2" stroke-width="1.0"/>
<circle cx="410.9" cy="83.7" r="2.9" fill="none" stroke="#d2d2d2" stroke-width="1.0"/>
<circle cx="417.7" cy="82.1" r="2.9" fill="none" stroke="#d2d2d2" stroke-width="1.0"/>
<circle cx="423.4" cy="83.1" r="2.9" fill="none" stroke="#d2d2d2" stroke-width="1.0"/>
<circle cx="440.9" cy="90.7" r="2.9" fill="none" stroke="#d2d2d2" stroke-width="1.0"/>
<circle cx="443.1" cy="91.0" r="2.9" fill="none" stroke="#d2d2d2" stroke-width="1.0"/>
<circle cx="460.3" cy="90.7" r="2.9" fill="none" stroke="#d2d2d2" stroke-width="1.0"/>
<circle cx="467.5" cy="88.1" r="2.9" fill="none" stroke="#d2d2d2" stroke-width="1.0"/>
<circle cx="455.3" cy="94.6" r="2.9" fill="none" stroke="#d2d2d2" stroke-width="1.0"/>
<circle cx="451.0" cy="96.8" r="2.9" fill="none" stroke="#d2d2d2" stroke-width="1.0"/>
<circle cx="411.5" cy="96.0" r="2.9" fill="none" stroke="#d2d2d2" stroke-width="1.0"/>
<circle cx="429.4" cy="98.2" r="2.9" fill="none" stroke="#d2d2d2" stroke-width="1.0"/>
<circle cx="434.5" cy="98.9" r="2.9" fill="none" stroke="#d2d2d2" stroke-width="1.0"/>
<circle cx="442.4" cy="98.2" r="2.9" fill="none" stroke="#d2d2d2" stroke-width="1.0"/>
<circle cx="446.7" cy="99.6" r="2.9" fill="none" stroke="#d2d2d2" stroke-width="1.0"/>
<circle cx="453.9" cy="101.1" r="2.9" fill="none" stroke="#d2d2d2" stroke-width="1.0"/>
<circle cx="457.5" cy="101.1" r="2.9" fill="none" stroke="#d2d2d2" stroke-width="1.0"/>
<circle cx="301.8" cy="135.4" r="2.9" fill="none" stroke="#d2d2d2" stroke-width="1.0"/>
<circle cx="321.8" cy="123.5" r="2.9" fill="none" stroke="#d2d2d2" stroke-width="1.0"/>
<circle cx="338.8" cy="122.0" r="2.9" fill="none" stroke="#d2d2d2" stroke-width="1.0"/>
<circle cx="344.8" cy="124.3" r="2.9" fill="none" stroke="#d2d2d2" stroke-width="1.0"/>
<circle cx="345.8" cy="128.2" r="2.9" fill="none" stroke="#d2d2d2" stroke-width="1.0"/>
<circle cx="348.4" cy="131.4" r="2.9" fill="none" stroke="#d2d2d2" stroke-width="1.0"/>
<circle cx="310.9" cy="143.5" r="2.9" fill="none" stroke="#d2d2d2" stroke-width="1.0"/>
<circle cx="310.3" cy="149.8" r="2.9" fill="none" stroke="#d2d2d2" stroke-width="1.0"/>
<circle cx="314.6" cy="142.1" r="2.9" fill="none" stroke="#d2d2d2" stroke-width="1.0"/>
<circle cx="293.2" cy="150.5" r="2.9" fill="none" stroke="#d2d2d2" stroke-width="1.0"/>
<circle cx="290.6" cy="156.8" r="2.9" fill="none" stroke="#d2d2d2" stroke-width="1.0"/>
<circle cx="331.4" cy="145.7" r="2.9" fill="none" stroke="#d2d2d2" stroke-width="1.0"/>
<circle cx="77.2" cy="133.3" r="2.9" fill="none" stroke="#9ef09e" stroke-width="1.0"/>
<circle cx="99.4" cy="136.5" r="2.9" fill="none" stroke="#9ef09e" stroke-width="1.0"/>
<circle cx="110.7" cy="133.3" r="2.9" fill="none" stroke="#9ef09e" stroke-width="1.0"/>
<circle cx="128.8" cy="134.4" r="2.9" fill="none" stroke="#9ef09e" stroke-width="1.0"/>
<circle cx="127.2" cy="137.4" r="2.9" fill="none" stroke="#9ef09e" stroke-width="1.0"/>
<circle cx="141.3" cy="113.6" r="2.9" fill="none" stroke="#9ef09e" stroke-width="1.0"/>
<circle cx="138.3" cy="122.7" r="2.9" fill="none" stroke="#9ef09e" stroke-width="1.0"/>
<circle cx="144.0" cy="144.9" r="2.9" fill="none" stroke="#9ef09e" stroke-width="1.0"/>
<circle cx="157.8" cy="138.5" r="2.9" fill="none" stroke="#9ef09e" stroke-width="1.0"/>
<circle cx="57.1" cy="153.0" r="2.9" fill="none" stroke="#9ef09e" stroke-width="1.0"/>
<circle cx="132.7" cy="158.2" r="2.9" fill="none" stroke="#9ef09e" stroke-width="1.0"/>
<circle cx="87.0" cy="171.8" r="2.9" fill="none" stroke="#9ef09e" stroke-width="1.0"/>
<circle cx="106.2" cy="181.6" r="2.9" fill="none" stroke="#9ef09e" stroke-width="1.0"/>
<circle cx="141.3" cy="186.5" r="2.9" fill="none" stroke="#9ef09e" stroke-width="1.0"/>
<circle cx="110.7" cy="200.1" r="2.9" fill="none" stroke="#9ef09e" stroke-width="1.0"/>
<circle cx="162.1" cy="88.3" r="2.9" fill="none" stroke="#9ef09e" stroke-width="1.0"/>
<circle cx="190.1" cy="95.9" r="2.9" fill="none" stroke="#9ef09e" stroke-width="1.0"/>
<circle cx="197.2" cy="101.0" r="2.9" fill="none" stroke="#9ef09e" stroke-width="1.0"/>
<circle cx="179.1" cy="102.2" r="2.9" fill="none" stroke="#9ef09e" stroke-width="1.0"/>
<circle cx="164.8" cy="114.5" r="2.9" fill="none" stroke="#9ef09e" stroke-width="1.0"/>
<circle cx="206.2" cy="123.8" r="2.9" fill="none" stroke="#9ef09e" stroke-width="1.0"/>
<circle cx="167.8" cy="128.1" r="2.9" fill="none" stroke="#9ef09e" stroke-width="1.0"/>
<circle cx="179.1" cy="133.1" r="2.9" fill="none" stroke="#9ef09e" stroke-width="1.0"/>
<circle cx="182.2" cy="137.4" r="2.9" fill="none" stroke="#9ef09e" stroke-width="1.0"/>
<circle cx="198.3" cy="139.5" r="2.9" fill="none" stroke="#9ef09e" stroke-width="1.0"/>
<circle cx="166.1" cy="145.0" r="2.9" fill="none" stroke="#9ef09e" stroke-width="1.0"/>
<circle cx="177.5" cy="146.7" r="2.9" fill="none" stroke="#9ef09e" stroke-width="1.0"/>
<circle cx="205.4" cy="148.4" r="2.9" fill="none" stroke="#9ef09e" stroke-width="1.0"/>
<circle cx="167.6" cy="151.2" r="2.9" fill="none" stroke="#9ef09e" stroke-width="1.0"/>
<circle cx="206.6" cy="155.0" r="2.9" fill="none" stroke="#9ef09e" stroke-width="1.0"/>
<circle cx="174.6" cy="176.9" r="2.9" fill="none" stroke="#9ef09e" stroke-width="1.0"/>
<circle cx="233.8" cy="91.0" r="2.9" fill="none" stroke="#9ef09e" stroke-width="1.0"/>
<circle cx="231.1" cy="106.9" r="2.9" fill="none" stroke="#9ef09e" stroke-width="1.0"/>
<circle cx="235.8" cy="103.5" r="2.9" fill="none" stroke="#9ef09e" stroke-width="1.0"/>
<circle cx="218.9" cy="115.0" r="2.9" fill="none" stroke="#9ef09e" stroke-width="1.0"/>
<circle cx="213.8" cy="119.6" r="2.9" fill="none" stroke="#9ef09e" stroke-width="1.0"/>
<circle cx="218.5" cy="125.0" r="2.9" fill="none" stroke="#9ef09e" stroke-width="1.0"/>
<circle cx="236.6" cy="134.3" r="2.9" fill="none" stroke="#9ef09e" stroke-width="1.0"/>
<circle cx="285.1" cy="70.8" r="2.9" fill="none" stroke="#9ef09e" stroke-width="1.0"/>
<circle cx="286.0" cy="93.6" r="2.9" fill="none" stroke="#9ef09e" stroke-width="1.0"/>
<circle cx="287.9" cy="97.4" r="2.9" fill="none" stroke="#9ef09e" stroke-width="1.0"/>
<circle cx="282.2" cy="100.2" r="2.9" fill="none" stroke="#9ef09e" stroke-width="1.0"/>
<circle cx="257.8" cy="105.4" r="2.9" fill="none" stroke="#9ef09e" stroke-width="1.0"/>
<circle cx="258.4" cy="112.6" r="2.9" fill="none" stroke="#9ef09e" stroke-width="1.0"/>
<circle cx="274.6" cy="113.2" r="2.9" fill="none" stroke="#9ef09e" stroke-width="1.0"/>
<circle cx="269.8" cy="114.5" r="2.9" fill="none" stroke="#9ef09e" stroke-width="1.0"/>
<circle cx="253.7" cy="119.3" r="2.9" fill="none" stroke="#9ef09e" stroke-width="1.0"/>
<circle cx="262.2" cy="120.2" r="2.9" fill="none" stroke="#9ef09e" stroke-width="1.0"/>
<circle cx="268.9" cy="121.2" r="2.9" fill="none" stroke="#9ef09e" stroke-width="1.0"/>
<circle cx="252.7" cy="123.1" r="2.9" fill="none" stroke="#9ef09e" stroke-width="1.0"/>
<circle cx="269.8" cy="124.0" r="2.9" fill="none" stroke="#9ef09e" stroke-width="1.0"/>
<circle cx="253.7" cy="126.9" r="2.9" fill="none" stroke="#9ef09e" stroke-width="1.0"/>
<circle cx="255.6" cy="128.8" r="2.9" fill="none" stroke="#9ef09e" stroke-width="1.0"/>
<circle cx="267.0" cy="131.6" r="2.9" fill="none" stroke="#9ef09e" stroke-width="1.0"/>
<circle cx="276.5" cy="129.7" r="2.9" fill="none" stroke="#9ef09e" stroke-width="1.0"/>
<circle cx="291.7" cy="126.0" r="2.9" fill="none" stroke="#9ef09e" stroke-width="1.0"/>
<circle cx="234.9" cy="150.2" r="2.9" fill="none" stroke="#9ef09e" stroke-width="1.0"/>
<circle cx="259.9" cy="149.0" r="2.9" fill="none" stroke="#9ef09e" stroke-width="1.0"/>
<circle cx="236.2" cy="175.2" r="2.9" fill="none" stroke="#9ef09e" stroke-width="1.0"/>
<circle cx="295.6" cy="100.6" r="2.9" fill="none" stroke="#9ef09e" stroke-width="1.0"/>
<circle cx="343.6" cy="106.9" r="2.9" fill="none" stroke="#9ef09e" stroke-width="1.0"/>
<circle cx="312.9" cy="110.9" r="2.9" fill="none" stroke="#9ef09e" stroke-width="1.0"/>
<circle cx="362.0" cy="104.6" r="2.9" fill="none" stroke="#9ef09e" stroke-width="1.0"/>
<circle cx="246.3" cy="109.8" r="2.9" fill="none" stroke="#9ef09e" stroke-width="1.0"/>
<circle cx="259.8" cy="116.5" r="2.9" fill="none" stroke="#9ef09e" stroke-width="1.0"/>
<circle cx="219.2" cy="131.1" r="2.9" fill="none" stroke="#b04af2" stroke-width="0.9"/>
<circle cx="270.8" cy="95.9" r="2.9" fill="none" stroke="#b04af2" stroke-width="0.9"/>
<circle cx="360.5" cy="67.4" r="2.9" fill="none" stroke="#b04af2" stroke-width="0.9"/>
<circle cx="285.1" cy="115.4" r="2.9" fill="none" stroke="#b04af2" stroke-width="0.9"/>
<circle cx="290.9" cy="116.4" r="2.9" fill="none" stroke="#b04af2" stroke-width="0.9"/>
<circle cx="300.3" cy="115.8" r="2.9" fill="none" stroke="#b04af2" stroke-width="0.9"/>
<circle cx="286.2" cy="122.8" r="2.9" fill="none" stroke="#b04af2" stroke-width="0.9"/>
<circle cx="304.6" cy="125.1" r="2.9" fill="none" stroke="#b04af2" stroke-width="0.9"/>
<circle cx="314.4" cy="130.5" r="2.9" fill="none" stroke="#b04af2" stroke-width="0.9"/>
<circle cx="322.3" cy="126.7" r="2.9" fill="none" stroke="#b04af2" stroke-width="0.9"/>
<circle cx="324.2" cy="133.7" r="2.9" fill="none" stroke="#b04af2" stroke-width="0.9"/>
<circle cx="324.8" cy="116.9" r="2.9" fill="none" stroke="#b04af2" stroke-width="0.9"/>
<circle cx="294.7" cy="145.6" r="2.9" fill="none" stroke="#b04af2" stroke-width="0.9"/>
<circle cx="319.7" cy="147.8" r="2.9" fill="none" stroke="#b04af2" stroke-width="0.9"/>
<circle cx="324.2" cy="151.0" r="2.9" fill="none" stroke="#b04af2" stroke-width="0.9"/>
<circle cx="328.1" cy="152.9" r="2.9" fill="none" stroke="#b04af2" stroke-width="0.9"/>
<circle cx="328.7" cy="156.2" r="2.9" fill="none" stroke="#b04af2" stroke-width="0.9"/>
<circle cx="329.4" cy="159.4" r="2.9" fill="none" stroke="#b04af2" stroke-width="0.9"/>
<circle cx="322.3" cy="140.8" r="2.9" fill="none" stroke="#b04af2" stroke-width="0.9"/>
<circle cx="326.2" cy="139.5" r="2.9" fill="none" stroke="#b04af2" stroke-width="0.9"/>
<circle cx="328.1" cy="136.9" r="2.9" fill="none" stroke="#b04af2" stroke-width="0.9"/>
<circle cx="361.1" cy="119.2" r="2.9" fill="none" stroke="#b04af2" stroke-width="0.9"/>
<circle cx="333.3" cy="126.3" r="2.9" fill="none" stroke="#b04af2" stroke-width="0.9"/>
<circle cx="351.9" cy="127.5" r="2.9" fill="none" stroke="#b04af2" stroke-width="0.9"/>
<circle cx="356.6" cy="129.2" r="2.9" fill="none" stroke="#b04af2" stroke-width="0.9"/>
<circle cx="395.1" cy="121.1" r="2.9" fill="none" stroke="#b04af2" stroke-width="0.9"/>
<circle cx="377.4" cy="124.1" r="2.9" fill="none" stroke="#b04af2" stroke-width="0.9"/>
<circle cx="382.5" cy="127.5" r="2.9" fill="none" stroke="#b04af2" stroke-width="0.9"/>
<circle cx="352.2" cy="133.7" r="2.9" fill="none" stroke="#b04af2" stroke-width="0.9"/>
<circle cx="363.3" cy="134.4" r="2.9" fill="none" stroke="#b04af2" stroke-width="0.9"/>
<circle cx="374.4" cy="135.9" r="2.9" fill="none" stroke="#b04af2" stroke-width="0.9"/>
<circle cx="381.1" cy="138.1" r="2.9" fill="none" stroke="#b04af2" stroke-width="0.9"/>
<circle cx="387.0" cy="135.9" r="2.9" fill="none" stroke="#b04af2" stroke-width="0.9"/>
<circle cx="393.6" cy="138.9" r="2.9" fill="none" stroke="#b04af2" stroke-width="0.9"/>
<circle cx="331.5" cy="139.6" r="2.9" fill="none" stroke="#b04af2" stroke-width="0.9"/>
<circle cx="336.7" cy="139.6" r="2.9" fill="none" stroke="#b04af2" stroke-width="0.9"/>
<circle cx="341.8" cy="140.3" r="2.9" fill="none" stroke="#b04af2" stroke-width="0.9"/>
<circle cx="346.3" cy="139.6" r="2.9" fill="none" stroke="#b04af2" stroke-width="0.9"/>
<circle cx="357.4" cy="141.8" r="2.9" fill="none" stroke="#b04af2" stroke-width="0.9"/>
<circle cx="361.8" cy="139.6" r="2.9" fill="none" stroke="#b04af2" stroke-width="0.9"/>
<circle cx="368.5" cy="139.6" r="2.9" fill="none" stroke="#b04af2" stroke-width="0.9"/>
<circle cx="372.9" cy="141.8" r="2.9" fill="none" stroke="#b04af2" stroke-width="0.9"/>
<circle cx="378.8" cy="139.6" r="2.9" fill="none" stroke="#b04af2" stroke-width="0.9"/>
<circle cx="384.0" cy="141.1" r="2.9" fill="none" stroke="#b04af2" stroke-width="0.9"/>
<circle cx="389.2" cy="141.8" r="2.9" fill="none" stroke="#b04af2" stroke-width="0.9"/>
<circle cx="395.1" cy="139.6" r="2.9" fill="none" stroke="#b04af2" stroke-width="0.9"/>
<circle cx="336.7" cy="147.7" r="2.9" fill="none" stroke="#b04af2" stroke-width="0.9"/>
<circle cx="343.3" cy="146.3" r="2.9" fill="none" stroke="#b04af2" stroke-width="0.9"/>
<circle cx="346.3" cy="150.7" r="2.9" fill="none" stroke="#b04af2" stroke-width="0.9"/>
<circle cx="353.7" cy="144.0" r="2.9" fill="none" stroke="#b04af2" stroke-width="0.9"/>
<circle cx="354.4" cy="148.5" r="2.9" fill="none" stroke="#b04af2" stroke-width="0.9"/>
<circle cx="358.1" cy="150.0" r="2.9" fill="none" stroke="#b04af2" stroke-width="0.9"/>
<circle cx="361.8" cy="149.2" r="2.9" fill="none" stroke="#b04af2" stroke-width="0.9"/>
<circle cx="361.8" cy="154.4" r="2.9" fill="none" stroke="#b04af2" stroke-width="0.9"/>
<circle cx="370.0" cy="147.0" r="2.9" fill="none" stroke="#b04af2" stroke-width="0.9"/>
<circle cx="378.1" cy="147.7" r="2.9" fill="none" stroke="#b04af2" stroke-width="0.9"/>
<circle cx="381.1" cy="150.0" r="2.9" fill="none" stroke="#b04af2" stroke-width="0.9"/>
<circle cx="390.7" cy="147.7" r="2.9" fill="none" stroke="#b04af2" stroke-width="0.9"/>
<circle cx="333.0" cy="154.4" r="2.9" fill="none" stroke="#b04af2" stroke-width="0.9"/>
<circle cx="341.8" cy="155.9" r="2.9" fill="none" stroke="#b04af2" stroke-width="0.9"/>
<circle cx="365.5" cy="161.8" r="2.9" fill="none" stroke="#b04af2" stroke-width="0.9"/>
<circle cx="371.4" cy="160.3" r="2.9" fill="none" stroke="#b04af2" stroke-width="0.9"/>
<circle cx="330.7" cy="159.6" r="2.9" fill="none" stroke="#b04af2" stroke-width="0.9"/>
<circle cx="331.3" cy="131.8" r="2.9" fill="none" stroke="#b04af2" stroke-width="0.9"/>
<circle cx="337.1" cy="154.9" r="2.9" fill="none" stroke="#b04af2" stroke-width="0.9"/>
<circle cx="332.6" cy="137.6" r="2.9" fill="none" stroke="#b04af2" stroke-width="0.9"/>
<circle cx="336.4" cy="136.9" r="2.9" fill="none" stroke="#b04af2" stroke-width="0.9"/>
<circle cx="345.3" cy="143.2" r="2.9" fill="none" stroke="#b04af2" stroke-width="0.9"/>
<circle cx="342.4" cy="151.8" r="2.9" fill="none" stroke="#b04af2" stroke-width="0.9"/>
<circle cx="356.1" cy="133.1" r="2.9" fill="none" stroke="#b04af2" stroke-width="0.9"/>
<circle cx="463.0" cy="111.5" r="2.9" fill="none" stroke="#b04af2" stroke-width="0.9"/>
<circle cx="406.7" cy="120.7" r="2.9" fill="none" stroke="#b04af2" stroke-width="0.9"/>
<circle cx="403.5" cy="128.3" r="2.9" fill="none" stroke="#b04af2" stroke-width="0.9"/>
<circle cx="418.6" cy="128.9" r="2.9" fill="none" stroke="#b04af2" stroke-width="0.9"/>
<circle cx="424.6" cy="133.1" r="2.9" fill="none" stroke="#b04af2" stroke-width="0.9"/>
<circle cx="427.3" cy="139.7" r="2.9" fill="none" stroke="#b04af2" stroke-width="0.9"/>
<circle cx="402.4" cy="137.3" r="2.9" fill="none" stroke="#b04af2" stroke-width="0.9"/>
<circle cx="398.8" cy="133.4" r="2.9" fill="none" stroke="#b04af2" stroke-width="0.9"/>
<circle cx="412.3" cy="142.6" r="2.9" fill="none" stroke="#b04af2" stroke-width="0.9"/>
<circle cx="415.1" cy="141.3" r="2.9" fill="none" stroke="#b04af2" stroke-width="0.9"/>
<circle cx="403.5" cy="150.0" r="2.9" fill="none" stroke="#b04af2" stroke-width="0.9"/>
<circle cx="417.3" cy="148.9" r="2.9" fill="none" stroke="#b04af2" stroke-width="0.9"/>
<circle cx="442.7" cy="146.8" r="2.9" fill="none" stroke="#b04af2" stroke-width="0.9"/>
<path d="M82.9 118.8L85.8 123.8L80.0 123.8Z" fill="#2d55dc"/>
<path d="M285.4 82.9L288.3 87.9L282.5 87.9Z" fill="#2d55dc"/>
<path d="M231.8 87.6L234.7 92.6L228.9 92.6Z" fill="#2d55dc"/>
<path d="M220.9 128.9L223.8 133.9L218.0 133.9Z" fill="#2d55dc"/>
<path d="M275.2 65.0L278.1 70.0L272.3 70.0Z" fill="#2d55dc"/>
<path d="M284.1 84.4L287.0 89.4L281.2 89.4Z" fill="#2d55dc"/>
<path d="M241.3 111.6L244.2 116.6L238.4 116.6Z" fill="#2d55dc"/>
<path d="M238.4 131.0L241.3 136.0L235.5 136.0Z" fill="#2d55dc"/>
<path d="M296.8 129.1L299.7 134.1L293.9 134.1Z" fill="#2d55dc"/>
<path d="M350.4 26.6L353.3 31.6L347.5 31.6Z" fill="#2d55dc"/>
<path d="M315.7 49.9L318.6 54.9L312.8 54.9Z" fill="#2d55dc"/>
<path d="M325.4 48.6L328.3 53.6L322.5 53.6Z" fill="#2d55dc"/>
<path d="M356.1 59.3L359.0 64.3L353.2 64.3Z" fill="#2d55dc"/>
<path d="M363.7 63.1L366.6 68.1L360.8 68.1Z" fill="#2d55dc"/>
<path d="M368.9 64.1L371.8 69.1L366.0 69.1Z" fill="#2d55dc"/>
<path d="M357.6 64.1L360.5 69.1L354.7 69.1Z" fill="#2d55dc"/>
<path d="M336.9 60.3L339.8 65.3L334.0 65.3Z" fill="#2d55dc"/>
<path d="M341.3 61.5L344.2 66.5L338.4 66.5Z" fill="#2d55dc"/>
<path d="M323.9 65.3L326.8 70.3L321.0 70.3Z" fill="#2d55dc"/>
<path d="M328.2 65.3L331.1 70.3L325.3 70.3Z" fill="#2d55dc"/>
<path d="M339.4 68.5L342.3 73.5L336.5 73.5Z" fill="#2d55dc"/>
<path d="M317.2 69.8L320.1 74.8L314.3 74.8Z" fill="#2d55dc"/>
<path d="M319.1 72.9L322.0 77.9L316.2 77.9Z" fill="#2d55dc"/>
<path d="M323.5 74.8L326.4 79.8L320.6 79.8Z" fill="#2d55dc"/>
<path d="M328.2 74.2L331.1 79.2L325.3 79.2Z" fill="#2d55dc"/>
<path d="M312.8 79.3L315.7 84.3L309.9 84.3Z" fill="#2d55dc"/>
<path d="M307.7 83.7L310.6 88.7L304.8 88.7Z" fill="#2d55dc"/>
<path d="M323.5 83.1L326.4 88.1L320.6 88.1Z" fill="#2d55dc"/>
<path d="M336.9 83.7L339.8 88.7L334.0 88.7Z" fill="#2d55dc"/>
<path d="M340.7 84.4L343.6 89.4L337.8 89.4Z" fill="#2d55dc"/>
<path d="M303.2 90.7L306.1 95.7L300.3 95.7Z" fill="#2d55dc"/>
<path d="M316.6 87.5L319.5 92.5L313.7 92.5Z" fill="#2d55dc"/>
<path d="M325.4 89.4L328.3 94.4L322.5 94.4Z" fill="#2d55dc"/>
<path d="M354.0 60.3L356.9 65.3L351.1 65.3Z" fill="#2d55dc"/>
<path d="M345.0 69.5L347.9 74.5L342.1 74.5Z" fill="#2d55dc"/>
<path d="M349.0 69.5L351.9 74.5L346.1 74.5Z" fill="#2d55dc"/>
<path d="M347.0 72.5L349.9 77.5L344.1 77.5Z" fill="#2d55dc"/>
<path d="M350.0 72.0L352.9 77.0L347.1 77.0Z" fill="#2d55dc"/>
<path d="M347.2 70.8L350.1 75.8L344.3 75.8Z" fill="#2d55dc"/>
<path d="M344.3 72.7L347.2 77.7L341.4 77.7Z" fill="#2d55dc"/>
<path d="M348.8 74.1L351.7 79.1L345.9 79.1Z" fill="#2d55dc"/>
<path d="M356.1 70.4L359.0 75.4L353.2 75.4Z" fill="#2d55dc"/>
<path d="M353.1 77.5L356.0 82.5L350.2 82.5Z" fill="#2d55dc"/>
<path d="M307.0 85.5L309.9 90.5L304.1 90.5Z" fill="#2d55dc"/>
<path d="M314.4 87.7L317.3 92.7L311.5 92.7Z" fill="#2d55dc"/>
<path d="M327.0 87.0L329.9 92.0L324.1 92.0Z" fill="#2d55dc"/>
<path d="M309.2 93.2L312.1 98.2L306.3 98.2Z" fill="#2d55dc"/>
<path d="M315.9 95.6L318.8 100.6L313.0 100.6Z" fill="#2d55dc"/>
<path d="M322.6 95.6L325.5 100.6L319.7 100.6Z" fill="#2d55dc"/>
<path d="M324.8 93.6L327.7 98.6L321.9 98.6Z" fill="#2d55dc"/>
<path d="M327.7 92.2L330.6 97.2L324.8 97.2Z" fill="#2d55dc"/>
<path d="M335.1 99.6L338.0 104.6L332.2 104.6Z" fill="#2d55dc"/>
<path d="M307.5 98.8L310.4 103.8L304.6 103.8Z" fill="#2d55dc"/>
<path d="M299.2 108.4L302.1 113.4L296.3 113.4Z" fill="#2d55dc"/>
<path d="M329.7 107.0L332.6 112.0L326.8 112.0Z" fill="#2d55dc"/>
<path d="M313.7 112.4L316.6 117.4L310.8 117.4Z" fill="#2d55dc"/>
<path d="M315.9 115.1L318.8 120.1L313.0 120.1Z" fill="#2d55dc"/>
<path d="M334.1 111.4L337.0 116.4L331.2 116.4Z" fill="#2d55dc"/>
<path d="M307.5 116.6L310.4 121.6L304.6 121.6Z" fill="#2d55dc"/>
<path d="M315.9 123.2L318.8 128.2L313.0 128.2Z" fill="#2d55dc"/>
<path d="M324.3 128.4L327.2 133.4L321.4 133.4Z" fill="#2d55dc"/>
<path d="M333.7 129.2L336.6 134.2L330.8 134.2Z" fill="#2d55dc"/>
<path d="M322.6 139.5L325.5 144.5L319.7 144.5Z" fill="#2d55dc"/>
<rect x="148.6" y="118.5" width="4.6" height="4.8" fill="#2d55dc"/>
<rect x="165.4" y="48.5" width="4.6" height="4.8" fill="#2d55dc"/>
<rect x="209.9" y="90.0" width="4.6" height="4.8" fill="#2d55dc"/>
<rect x="201.8" y="108.7" width="4.6" height="4.8" fill="#2d55dc"/>
<rect x="224.0" y="105.5" width="4.6" height="4.8" fill="#2d55dc"/>
<rect x="194.8" y="144.5" width="4.6" height="4.8" fill="#2d55dc"/>
<rect x="274.3" y="139.3" width="4.6" height="4.8" fill="#2d55dc"/>
<rect x="268.6" y="191.8" width="4.6" height="4.8" fill="#2d55dc"/>
<path d="M173.5 97.6L176.8 100.0L175.6 103.9L171.4 103.9L170.2 100.0Z" fill="#2d55dc"/>
<path d="M213.9 102.9L217.2 105.3L216.0 109.2L211.8 109.2L210.6 105.3Z" fill="#2d55dc"/>
<path d="M220.7 112.4L224.0 114.8L222.8 118.7L218.6 118.7L217.4 114.8Z" fill="#2d55dc"/>
<path d="M222.3 121.8L225.6 124.2L224.4 128.1L220.2 128.1L219.0 124.2Z" fill="#2d55dc"/>
<path d="M247.4 112.6L250.7 115.0L249.5 118.9L245.3 118.9L244.1 115.0Z" fill="#2d55dc"/>
<circle cx="319.6" cy="106.9" r="3.0" fill="#2d55dc"/>
<circle cx="338.0" cy="158.4" r="3.0" fill="#2d55dc"/>
<circle cx="375.9" cy="80.0" r="3.0" fill="#2d55dc"/>
<circle cx="372.9" cy="85.3" r="3.0" fill="#2d55dc"/>
<circle cx="392.4" cy="80.0" r="3.0" fill="#2d55dc"/>
<circle cx="404.9" cy="84.1" r="3.0" fill="#2d55dc"/>
<circle cx="399.5" cy="89.6" r="3.0" fill="#2d55dc"/>
<circle cx="410.4" cy="71.5" r="3.0" fill="#2d55dc"/>
<circle cx="446.8" cy="60.8" r="3.0" fill="#2d55dc"/>
<circle cx="435.7" cy="66.4" r="3.0" fill="#2d55dc"/>
<circle cx="400.9" cy="66.3" r="3.1" fill="#ffff00"/>
<circle cx="368.5" cy="82.1" r="3.1" fill="#ffff00"/>
<circle cx="396.8" cy="78.8" r="3.1" fill="#ffff00"/>
<circle cx="382.7" cy="95.8" r="3.1" fill="#ffff00"/>
<circle cx="375.3" cy="109.8" r="3.1" fill="#ffff00"/>
<path d="M408.9 51.1L411.8 56.1L406.0 56.1Z" fill="#ffff00"/>
<path d="M375.6 73.5L378.5 78.5L372.7 78.5Z" fill="#ffff00"/>
<path d="M379.6 78.7L382.5 83.7L376.7 83.7Z" fill="#ffff00"/>
<path d="M402.0 74.5L404.9 79.5L399.1 79.5Z" fill="#ffff00"/>
<path d="M404.9 73.8L407.8 78.8L402.0 78.8Z" fill="#ffff00"/>
<path d="M395.3 83.4L398.2 88.4L392.4 88.4Z" fill="#ffff00"/>
<path d="M393.8 90.0L396.7 95.0L390.9 95.0Z" fill="#ffff00"/>
<path d="M409.4 93.0L412.3 98.0L406.5 98.0Z" fill="#ffff00"/>
<path d="M368.7 99.9L371.6 104.9L365.8 104.9Z" fill="#ffff00"/>
<path d="M373.1 114.0L376.0 119.0L370.2 119.0Z" fill="#ffff00"/>
<path d="M380.2 116.9L383.1 121.9L377.3 121.9Z" fill="#ffff00"/>
<path d="M371.6 122.1L374.5 127.1L368.7 127.1Z" fill="#ffff00"/>
<path d="M392.4 108.0L395.3 113.0L389.5 113.0Z" fill="#ffff00"/>
<path d="M399.0 106.1L401.9 111.1L396.1 111.1Z" fill="#ffff00"/>
<path d="M402.7 107.3L405.6 112.3L399.8 112.3Z" fill="#ffff00"/>
<path d="M402.7 98.4L405.6 103.4L399.8 103.4Z" fill="#ffff00"/>
<path d="M406.8 97.8L409.7 102.8L403.9 102.8Z" fill="#ffff00"/>
<path d="M412.3 102.1L415.2 107.1L409.4 107.1Z" fill="#ffff00"/>
<path d="M421.5 83.5L424.4 88.5L418.6 88.5Z" fill="#ffff00"/>
<path d="M430.2 86.3L433.1 91.3L427.3 91.3Z" fill="#ffff00"/>
<path d="M424.4 89.2L427.3 94.2L421.5 94.2Z" fill="#ffff00"/>
<path d="M434.5 90.2L437.4 95.2L431.6 95.2Z" fill="#ffff00"/>
<path d="M415.8 97.1L418.7 102.1L412.9 102.1Z" fill="#ffff00"/>
<path d="M417.9 95.7L420.8 100.7L415.0 100.7Z" fill="#ffff00"/>
<path d="M413.6 99.3L416.5 104.3L410.7 104.3Z" fill="#ffff00"/>
<path d="M427.3 98.6L430.2 103.6L424.4 103.6Z" fill="#ffff00"/>
<path d="M417.9 106.1L420.8 111.1L415.0 111.1Z" fill="#ffff00"/>
<path d="M428.7 106.1L431.6 111.1L425.8 111.1Z" fill="#ffff00"/>
<path d="M434.5 106.8L437.4 111.8L431.6 111.8Z" fill="#ffff00"/>
<path d="M436.9 115.9L439.8 120.9L434.0 120.9Z" fill="#ffff00"/>
<path d="M439.8 122.2L442.7 127.2L436.9 127.2Z" fill="#ffff00"/>
<circle cx="366.0" cy="98.5" r="4.2" fill="#ff8a00"/>
<circle cx="356.1" cy="106.8" r="4.2" fill="#ff8a00"/>
<circle cx="360.5" cy="110.5" r="4.2" fill="#ff8a00"/>
<circle cx="367.2" cy="113.5" r="4.2" fill="#ff8a00"/>
<circle cx="380.5" cy="112.0" r="4.2" fill="#ff8a00"/>
<path d="M259.7 104.1H285.1M259.7 100.1V108.1M285.1 100.1V108.1" stroke="#cc6c6c" stroke-width="1.0" fill="none"/>
<path d="M240.7 138.6H274.2M240.7 134.6V142.6M274.2 134.6V142.6" stroke="#cc6c6c" stroke-width="1.0" fill="none"/>
<path d="M321.4 66.5H349.5M321.4 62.5V70.5M349.5 62.5V70.5" stroke="#cc6c6c" stroke-width="1.0" fill="none"/>
<path d="M321.4 78.6H349.5M321.4 74.6V82.6M349.5 74.6V82.6" stroke="#cc6c6c" stroke-width="1.0" fill="none"/>
<path d="M313.4 88.1H349.5M313.4 84.1V92.1M349.5 84.1V92.1" stroke="#cc6c6c" stroke-width="1.0" fill="none"/>
<path d="M299.0 105.0H326.7M299.0 101.0V109.0M326.7 101.0V109.0" stroke="#cc6c6c" stroke-width="1.0" fill="none"/>
<path d="M315.5 115.4H343.6M315.5 111.4V119.4M343.6 111.4V119.4" stroke="#cc6c6c" stroke-width="1.0" fill="none"/>
<circle cx="272.3" cy="104.1" r="3.8" fill="#b01818"/>
<circle cx="257.1" cy="138.6" r="3.8" fill="#b01818"/>
<circle cx="335.4" cy="66.5" r="3.8" fill="#b01818"/>
<circle cx="335.3" cy="78.6" r="3.8" fill="#b01818"/>
<circle cx="331.2" cy="88.1" r="3.8" fill="#b01818"/>
<circle cx="312.9" cy="105.0" r="3.8" fill="#b01818"/>
<circle cx="329.7" cy="115.4" r="3.8" fill="#b01818"/>
<circle cx="205.5" cy="105.3" r="3.7" fill="none" stroke="#b01818" stroke-width="1.75"/>
<circle cx="234.1" cy="121.8" r="3.7" fill="none" stroke="#b01818" stroke-width="1.75"/>
<circle cx="246.1" cy="109.4" r="3.7" fill="none" stroke="#b01818" stroke-width="1.75"/>
<circle cx="317.2" cy="83.1" r="3.7" fill="none" stroke="#b01818" stroke-width="1.75"/>
<circle cx="300.4" cy="104.0" r="3.7" fill="none" stroke="#b01818" stroke-width="1.75"/>
<circle cx="380.5" cy="112.0" r="3.7" fill="none" stroke="#b01818" stroke-width="1.75"/>
<path d="M356.2 79.8L357.6 83.7L361.7 83.8L358.4 86.3L359.6 90.3L356.2 87.9L352.8 90.3L354.0 86.3L350.7 83.8L354.8 83.7Z" fill="none" stroke="#b01818" stroke-width="1.6" stroke-linejoin="round"/>
<rect x="390.9" y="127.9" width="6" height="6" rx="1.3" fill="#2d55dc"/>
<rect x="420.2" y="115.4" width="6" height="6" rx="1.3" fill="#2d55dc"/>
</g>
<g clip-path="url(#cl)">
<circle cx="77.2" cy="256.5" r="2.9" fill="none" stroke="#9ef09e" stroke-width="1.0"/>
<circle cx="127.0" cy="283.9" r="2.9" fill="none" stroke="#9ef09e" stroke-width="1.0"/>
<circle cx="138.3" cy="285.7" r="2.9" fill="none" stroke="#9ef09e" stroke-width="1.0"/>
<circle cx="110.7" cy="291.1" r="2.9" fill="none" stroke="#9ef09e" stroke-width="1.0"/>
<circle cx="132.7" cy="292.2" r="2.9" fill="none" stroke="#9ef09e" stroke-width="1.0"/>
<circle cx="141.2" cy="292.2" r="2.9" fill="none" stroke="#9ef09e" stroke-width="1.0"/>
<circle cx="57.5" cy="298.5" r="2.9" fill="none" stroke="#9ef09e" stroke-width="1.0"/>
<circle cx="87.1" cy="333.0" r="2.9" fill="none" stroke="#9ef09e" stroke-width="1.0"/>
<circle cx="106.6" cy="339.4" r="2.9" fill="none" stroke="#9ef09e" stroke-width="1.0"/>
<circle cx="141.1" cy="330.0" r="2.9" fill="none" stroke="#9ef09e" stroke-width="1.0"/>
<circle cx="144.1" cy="324.8" r="2.9" fill="none" stroke="#9ef09e" stroke-width="1.0"/>
<circle cx="110.6" cy="389.9" r="2.9" fill="none" stroke="#9ef09e" stroke-width="1.0"/>
<circle cx="197.0" cy="251.3" r="2.9" fill="none" stroke="#9ef09e" stroke-width="1.0"/>
<circle cx="233.7" cy="247.1" r="2.9" fill="none" stroke="#9ef09e" stroke-width="1.0"/>
<circle cx="230.3" cy="257.6" r="2.9" fill="none" stroke="#9ef09e" stroke-width="1.0"/>
<circle cx="219.3" cy="270.4" r="2.9" fill="none" stroke="#9ef09e" stroke-width="1.0"/>
<circle cx="219.3" cy="276.8" r="2.9" fill="none" stroke="#9ef09e" stroke-width="1.0"/>
<circle cx="243.2" cy="270.4" r="2.9" fill="none" stroke="#9ef09e" stroke-width="1.0"/>
<circle cx="164.7" cy="285.9" r="2.9" fill="none" stroke="#9ef09e" stroke-width="1.0"/>
<circle cx="167.9" cy="285.9" r="2.9" fill="none" stroke="#9ef09e" stroke-width="1.0"/>
<circle cx="190.0" cy="288.4" r="2.9" fill="none" stroke="#9ef09e" stroke-width="1.0"/>
<circle cx="181.8" cy="293.1" r="2.9" fill="none" stroke="#9ef09e" stroke-width="1.0"/>
<circle cx="178.9" cy="296.5" r="2.9" fill="none" stroke="#9ef09e" stroke-width="1.0"/>
<circle cx="178.9" cy="299.8" r="2.9" fill="none" stroke="#9ef09e" stroke-width="1.0"/>
<circle cx="162.2" cy="297.3" r="2.9" fill="none" stroke="#9ef09e" stroke-width="1.0"/>
<circle cx="233.7" cy="287.0" r="2.9" fill="none" stroke="#9ef09e" stroke-width="1.0"/>
<circle cx="236.0" cy="288.4" r="2.9" fill="none" stroke="#9ef09e" stroke-width="1.0"/>
<circle cx="237.2" cy="297.2" r="2.9" fill="none" stroke="#9ef09e" stroke-width="1.0"/>
<circle cx="205.2" cy="298.5" r="2.9" fill="none" stroke="#9ef09e" stroke-width="1.0"/>
<circle cx="219.3" cy="304.9" r="2.9" fill="none" stroke="#9ef09e" stroke-width="1.0"/>
<circle cx="167.5" cy="314.1" r="2.9" fill="none" stroke="#9ef09e" stroke-width="1.0"/>
<circle cx="177.0" cy="311.8" r="2.9" fill="none" stroke="#9ef09e" stroke-width="1.0"/>
<circle cx="177.0" cy="315.0" r="2.9" fill="none" stroke="#9ef09e" stroke-width="1.0"/>
<circle cx="159.9" cy="317.9" r="2.9" fill="none" stroke="#9ef09e" stroke-width="1.0"/>
<circle cx="198.3" cy="316.9" r="2.9" fill="none" stroke="#9ef09e" stroke-width="1.0"/>
<circle cx="206.5" cy="316.9" r="2.9" fill="none" stroke="#9ef09e" stroke-width="1.0"/>
<circle cx="207.1" cy="320.1" r="2.9" fill="none" stroke="#9ef09e" stroke-width="1.0"/>
<circle cx="166.0" cy="328.9" r="2.9" fill="none" stroke="#9ef09e" stroke-width="1.0"/>
<circle cx="205.2" cy="328.9" r="2.9" fill="none" stroke="#9ef09e" stroke-width="1.0"/>
<circle cx="235.8" cy="326.4" r="2.9" fill="none" stroke="#9ef09e" stroke-width="1.0"/>
<circle cx="274.2" cy="246.8" r="2.9" fill="none" stroke="#9ef09e" stroke-width="1.0"/>
<circle cx="279.6" cy="250.0" r="2.9" fill="none" stroke="#9ef09e" stroke-width="1.0"/>
<circle cx="261.3" cy="257.6" r="2.9" fill="none" stroke="#9ef09e" stroke-width="1.0"/>
<circle cx="296.1" cy="256.1" r="2.9" fill="none" stroke="#9ef09e" stroke-width="1.0"/>
<circle cx="258.1" cy="268.1" r="2.9" fill="none" stroke="#9ef09e" stroke-width="1.0"/>
<circle cx="262.8" cy="267.1" r="2.9" fill="none" stroke="#9ef09e" stroke-width="1.0"/>
<circle cx="268.2" cy="278.5" r="2.9" fill="none" stroke="#9ef09e" stroke-width="1.0"/>
<circle cx="269.5" cy="280.4" r="2.9" fill="none" stroke="#9ef09e" stroke-width="1.0"/>
<circle cx="253.3" cy="283.5" r="2.9" fill="none" stroke="#9ef09e" stroke-width="1.0"/>
<circle cx="255.5" cy="281.6" r="2.9" fill="none" stroke="#9ef09e" stroke-width="1.0"/>
<circle cx="252.7" cy="286.5" r="2.9" fill="none" stroke="#9ef09e" stroke-width="1.0"/>
<circle cx="282.5" cy="289.0" r="2.9" fill="none" stroke="#9ef09e" stroke-width="1.0"/>
<circle cx="244.8" cy="294.1" r="2.9" fill="none" stroke="#9ef09e" stroke-width="1.0"/>
<circle cx="259.9" cy="299.6" r="2.9" fill="none" stroke="#9ef09e" stroke-width="1.0"/>
<circle cx="266.6" cy="304.0" r="2.9" fill="none" stroke="#9ef09e" stroke-width="1.0"/>
<circle cx="269.2" cy="307.0" r="2.9" fill="none" stroke="#9ef09e" stroke-width="1.0"/>
<circle cx="248.5" cy="307.0" r="2.9" fill="none" stroke="#9ef09e" stroke-width="1.0"/>
<circle cx="291.9" cy="296.1" r="2.9" fill="none" stroke="#9ef09e" stroke-width="1.0"/>
<circle cx="287.1" cy="311.1" r="2.9" fill="none" stroke="#9ef09e" stroke-width="1.0"/>
<circle cx="288.0" cy="312.5" r="2.9" fill="none" stroke="#9ef09e" stroke-width="1.0"/>
<circle cx="285.7" cy="285.0" r="2.9" fill="none" stroke="#9ef09e" stroke-width="1.0"/>
<circle cx="314.6" cy="285.0" r="2.9" fill="none" stroke="#9ef09e" stroke-width="1.0"/>
<circle cx="343.8" cy="264.3" r="2.9" fill="none" stroke="#9ef09e" stroke-width="1.0"/>
<circle cx="362.0" cy="297.5" r="2.9" fill="none" stroke="#9ef09e" stroke-width="1.0"/>
<circle cx="174.9" cy="351.9" r="2.9" fill="none" stroke="#9ef09e" stroke-width="1.0"/>
<circle cx="245.8" cy="362.3" r="2.9" fill="none" stroke="#9ef09e" stroke-width="1.0"/>
<circle cx="171.6" cy="405.6" r="2.9" fill="none" stroke="#9ef09e" stroke-width="1.0"/>
<circle cx="277.1" cy="386.6" r="2.9" fill="none" stroke="#9ef09e" stroke-width="1.0"/>
<circle cx="270.8" cy="244.3" r="2.9" fill="none" stroke="#b04af2" stroke-width="0.9"/>
<circle cx="290.4" cy="280.5" r="2.9" fill="none" stroke="#b04af2" stroke-width="0.9"/>
<circle cx="327.5" cy="261.4" r="2.9" fill="none" stroke="#b04af2" stroke-width="0.9"/>
<circle cx="329.9" cy="261.8" r="2.9" fill="none" stroke="#b04af2" stroke-width="0.9"/>
<circle cx="327.5" cy="275.7" r="2.9" fill="none" stroke="#b04af2" stroke-width="0.9"/>
<circle cx="326.4" cy="281.3" r="2.9" fill="none" stroke="#b04af2" stroke-width="0.9"/>
<circle cx="333.8" cy="287.2" r="2.9" fill="none" stroke="#b04af2" stroke-width="0.9"/>
<circle cx="339.0" cy="285.7" r="2.9" fill="none" stroke="#b04af2" stroke-width="0.9"/>
<circle cx="350.5" cy="287.5" r="2.9" fill="none" stroke="#b04af2" stroke-width="0.9"/>
<circle cx="343.5" cy="291.6" r="2.9" fill="none" stroke="#b04af2" stroke-width="0.9"/>
<circle cx="313.9" cy="293.9" r="2.9" fill="none" stroke="#b04af2" stroke-width="0.9"/>
<circle cx="324.2" cy="299.8" r="2.9" fill="none" stroke="#b04af2" stroke-width="0.9"/>
<circle cx="294.6" cy="307.9" r="2.9" fill="none" stroke="#b04af2" stroke-width="0.9"/>
<circle cx="286.5" cy="304.0" r="2.9" fill="none" stroke="#b04af2" stroke-width="0.9"/>
<circle cx="327.9" cy="322.3" r="2.9" fill="none" stroke="#b04af2" stroke-width="0.9"/>
<circle cx="341.2" cy="310.1" r="2.9" fill="none" stroke="#b04af2" stroke-width="0.9"/>
<circle cx="345.7" cy="313.1" r="2.9" fill="none" stroke="#b04af2" stroke-width="0.9"/>
<circle cx="338.3" cy="299.0" r="2.9" fill="none" stroke="#b04af2" stroke-width="0.9"/>
<circle cx="344.2" cy="299.0" r="2.9" fill="none" stroke="#b04af2" stroke-width="0.9"/>
<circle cx="347.2" cy="303.5" r="2.9" fill="none" stroke="#b04af2" stroke-width="0.9"/>
<circle cx="340.5" cy="303.5" r="2.9" fill="none" stroke="#b04af2" stroke-width="0.9"/>
<circle cx="346.8" cy="326.5" r="2.9" fill="none" stroke="#b04af2" stroke-width="0.9"/>
<circle cx="353.1" cy="273.1" r="2.9" fill="none" stroke="#b04af2" stroke-width="0.9"/>
<circle cx="368.7" cy="276.8" r="2.9" fill="none" stroke="#b04af2" stroke-width="0.9"/>
<circle cx="379.8" cy="276.4" r="2.9" fill="none" stroke="#b04af2" stroke-width="0.9"/>
<circle cx="359.8" cy="288.7" r="2.9" fill="none" stroke="#b04af2" stroke-width="0.9"/>
<circle cx="362.8" cy="290.9" r="2.9" fill="none" stroke="#b04af2" stroke-width="0.9"/>
<circle cx="369.4" cy="291.6" r="2.9" fill="none" stroke="#b04af2" stroke-width="0.9"/>
<circle cx="373.9" cy="292.4" r="2.9" fill="none" stroke="#b04af2" stroke-width="0.9"/>
<circle cx="378.3" cy="290.9" r="2.9" fill="none" stroke="#b04af2" stroke-width="0.9"/>
<circle cx="385.7" cy="288.7" r="2.9" fill="none" stroke="#b04af2" stroke-width="0.9"/>
<circle cx="387.2" cy="290.9" r="2.9" fill="none" stroke="#b04af2" stroke-width="0.9"/>
<circle cx="395.3" cy="287.2" r="2.9" fill="none" stroke="#b04af2" stroke-width="0.9"/>
<circle cx="401.2" cy="287.9" r="2.9" fill="none" stroke="#b04af2" stroke-width="0.9"/>
<circle cx="403.5" cy="289.4" r="2.9" fill="none" stroke="#b04af2" stroke-width="0.9"/>
<circle cx="371.2" cy="296.3" r="2.9" fill="none" stroke="#b04af2" stroke-width="0.9"/>
<circle cx="380.9" cy="297.8" r="2.9" fill="none" stroke="#b04af2" stroke-width="0.9"/>
<circle cx="390.9" cy="300.5" r="2.9" fill="none" stroke="#b04af2" stroke-width="0.9"/>
<circle cx="395.3" cy="299.8" r="2.9" fill="none" stroke="#b04af2" stroke-width="0.9"/>
<circle cx="399.0" cy="294.6" r="2.9" fill="none" stroke="#b04af2" stroke-width="0.9"/>
<circle cx="359.8" cy="300.5" r="2.9" fill="none" stroke="#b04af2" stroke-width="0.9"/>
<circle cx="363.5" cy="302.0" r="2.9" fill="none" stroke="#b04af2" stroke-width="0.9"/>
<circle cx="347.2" cy="292.4" r="2.9" fill="none" stroke="#b04af2" stroke-width="0.9"/>
<circle cx="382.0" cy="319.4" r="2.9" fill="none" stroke="#b04af2" stroke-width="0.9"/>
<circle cx="377.6" cy="318.7" r="2.9" fill="none" stroke="#b04af2" stroke-width="0.9"/>
<circle cx="372.4" cy="310.5" r="2.9" fill="none" stroke="#b04af2" stroke-width="0.9"/>
<circle cx="373.9" cy="312.8" r="2.9" fill="none" stroke="#b04af2" stroke-width="0.9"/>
<circle cx="398.3" cy="295.7" r="2.9" fill="none" stroke="#b04af2" stroke-width="0.9"/>
<circle cx="406.4" cy="304.6" r="2.9" fill="none" stroke="#b04af2" stroke-width="0.9"/>
<circle cx="411.6" cy="312.4" r="2.9" fill="none" stroke="#b04af2" stroke-width="0.9"/>
<circle cx="392.4" cy="315.7" r="2.9" fill="none" stroke="#b04af2" stroke-width="0.9"/>
<circle cx="396.1" cy="314.2" r="2.9" fill="none" stroke="#b04af2" stroke-width="0.9"/>
<circle cx="403.5" cy="321.6" r="2.9" fill="none" stroke="#b04af2" stroke-width="0.9"/>
<circle cx="413.1" cy="342.4" r="2.9" fill="none" stroke="#b04af2" stroke-width="0.9"/>
<circle cx="351.8" cy="306.4" r="2.9" fill="none" stroke="#b04af2" stroke-width="0.9"/>
<circle cx="357.6" cy="306.8" r="2.9" fill="none" stroke="#b04af2" stroke-width="0.9"/>
<circle cx="359.8" cy="309.8" r="2.9" fill="none" stroke="#b04af2" stroke-width="0.9"/>
<circle cx="418.7" cy="323.5" r="2.9" fill="none" stroke="#b04af2" stroke-width="0.9"/>
<circle cx="427.0" cy="327.7" r="2.9" fill="none" stroke="#b04af2" stroke-width="0.9"/>
<circle cx="424.7" cy="333.2" r="2.9" fill="none" stroke="#b04af2" stroke-width="0.9"/>
<circle cx="442.6" cy="331.5" r="2.9" fill="none" stroke="#b04af2" stroke-width="0.9"/>
<circle cx="463.6" cy="348.7" r="2.9" fill="none" stroke="#b04af2" stroke-width="0.9"/>
<circle cx="321.2" cy="294.3" r="2.9" fill="none" stroke="#b04af2" stroke-width="0.9"/>
<circle cx="318.5" cy="291.7" r="2.9" fill="none" stroke="#b04af2" stroke-width="0.9"/>
<circle cx="345.7" cy="292.5" r="2.9" fill="none" stroke="#b04af2" stroke-width="0.9"/>
<circle cx="350.8" cy="295.6" r="2.9" fill="none" stroke="#b04af2" stroke-width="0.9"/>
<circle cx="336.9" cy="289.5" r="2.9" fill="none" stroke="#b04af2" stroke-width="0.9"/>
<circle cx="355.0" cy="272.1" r="2.9" fill="none" stroke="#b04af2" stroke-width="0.9"/>
<circle cx="366.6" cy="277.9" r="2.9" fill="none" stroke="#b04af2" stroke-width="0.9"/>
<circle cx="355.0" cy="301.7" r="2.9" fill="none" stroke="#b04af2" stroke-width="0.9"/>
<circle cx="350.8" cy="290.1" r="2.9" fill="none" stroke="#b04af2" stroke-width="0.9"/>
<circle cx="360.3" cy="292.2" r="2.9" fill="none" stroke="#b04af2" stroke-width="0.9"/>
<path d="M231.8 259.9L234.7 264.9L228.9 264.9Z" fill="#2d55dc"/>
<path d="M240.2 281.1L243.1 286.1L237.3 286.1Z" fill="#2d55dc"/>
<path d="M243.0 294.0L245.9 299.0L240.1 299.0Z" fill="#2d55dc"/>
<path d="M220.8 305.8L223.7 310.8L217.9 310.8Z" fill="#2d55dc"/>
<path d="M238.9 325.3L241.8 330.3L236.0 330.3Z" fill="#2d55dc"/>
<path d="M283.8 248.5L286.7 253.5L280.9 253.5Z" fill="#2d55dc"/>
<path d="M275.1 298.6L278.0 303.6L272.2 303.6Z" fill="#2d55dc"/>
<path d="M297.7 312.0L300.6 317.0L294.8 317.0Z" fill="#2d55dc"/>
<path d="M285.2 279.0L288.1 284.0L282.3 284.0Z" fill="#2d55dc"/>
<path d="M328.2 234.6L331.1 239.6L325.3 239.6Z" fill="#2d55dc"/>
<path d="M317.2 237.7L320.1 242.7L314.3 242.7Z" fill="#2d55dc"/>
<path d="M307.4 240.9L310.3 245.9L304.5 245.9Z" fill="#2d55dc"/>
<path d="M335.3 238.7L338.2 243.7L332.4 243.7Z" fill="#2d55dc"/>
<path d="M322.3 242.2L325.2 247.2L319.4 247.2Z" fill="#2d55dc"/>
<path d="M325.4 244.1L328.3 249.1L322.5 249.1Z" fill="#2d55dc"/>
<path d="M328.2 242.8L331.1 247.8L325.3 247.8Z" fill="#2d55dc"/>
<path d="M333.1 242.2L336.0 247.2L330.2 247.2Z" fill="#2d55dc"/>
<path d="M319.7 253.2L322.6 258.2L316.8 258.2Z" fill="#2d55dc"/>
<path d="M303.2 256.5L306.1 261.5L300.3 261.5Z" fill="#2d55dc"/>
<path d="M316.3 261.2L319.2 266.2L313.4 266.2Z" fill="#2d55dc"/>
<path d="M326.7 259.9L329.6 264.9L323.8 264.9Z" fill="#2d55dc"/>
<path d="M327.3 263.1L330.2 268.1L324.4 268.1Z" fill="#2d55dc"/>
<path d="M329.9 264.4L332.8 269.4L327.0 269.4Z" fill="#2d55dc"/>
<path d="M333.7 252.3L336.6 257.3L330.8 257.3Z" fill="#2d55dc"/>
<path d="M339.4 253.2L342.3 258.2L336.5 258.2Z" fill="#2d55dc"/>
<path d="M345.4 253.4L348.3 258.4L342.5 258.4Z" fill="#2d55dc"/>
<path d="M349.1 257.4L352.0 262.4L346.2 262.4Z" fill="#2d55dc"/>
<path d="M307.4 263.7L310.3 268.7L304.5 268.7Z" fill="#2d55dc"/>
<path d="M312.8 265.0L315.7 270.0L309.9 270.0Z" fill="#2d55dc"/>
<path d="M336.9 263.7L339.8 268.7L334.0 268.7Z" fill="#2d55dc"/>
<path d="M341.3 259.9L344.2 264.9L338.4 264.9Z" fill="#2d55dc"/>
<path d="M337.8 265.9L340.7 270.9L334.9 270.9Z" fill="#2d55dc"/>
<path d="M342.6 266.9L345.5 271.9L339.7 271.9Z" fill="#2d55dc"/>
<path d="M299.4 270.1L302.3 275.1L296.5 275.1Z" fill="#2d55dc"/>
<path d="M315.7 269.6L318.6 274.6L312.8 274.6Z" fill="#2d55dc"/>
<path d="M321.6 268.2L324.5 273.2L318.7 273.2Z" fill="#2d55dc"/>
<path d="M336.2 269.4L339.1 274.4L333.3 274.4Z" fill="#2d55dc"/>
<path d="M350.2 269.4L353.1 274.4L347.3 274.4Z" fill="#2d55dc"/>
<path d="M313.9 266.2L316.8 271.2L311.0 271.2Z" fill="#2d55dc"/>
<path d="M321.3 269.9L324.2 274.9L318.4 274.9Z" fill="#2d55dc"/>
<path d="M317.6 274.3L320.5 279.3L314.7 279.3Z" fill="#2d55dc"/>
<path d="M322.0 272.9L324.9 277.9L319.1 277.9Z" fill="#2d55dc"/>
<path d="M307.2 277.3L310.1 282.3L304.3 282.3Z" fill="#2d55dc"/>
<path d="M308.7 283.2L311.6 288.2L305.8 288.2Z" fill="#2d55dc"/>
<path d="M315.3 277.3L318.2 282.3L312.4 282.3Z" fill="#2d55dc"/>
<path d="M320.5 277.3L323.4 282.3L317.6 282.3Z" fill="#2d55dc"/>
<path d="M324.2 275.8L327.1 280.8L321.3 280.8Z" fill="#2d55dc"/>
<path d="M325.7 281.7L328.6 286.7L322.8 286.7Z" fill="#2d55dc"/>
<path d="M324.2 285.4L327.1 290.4L321.3 290.4Z" fill="#2d55dc"/>
<path d="M335.3 276.6L338.2 281.6L332.4 281.6Z" fill="#2d55dc"/>
<path d="M340.5 276.6L343.4 281.6L337.6 281.6Z" fill="#2d55dc"/>
<path d="M344.9 276.6L347.8 281.6L342.0 281.6Z" fill="#2d55dc"/>
<path d="M346.0 272.9L348.9 277.9L343.1 277.9Z" fill="#2d55dc"/>
<path d="M344.9 284.7L347.8 289.7L342.0 289.7Z" fill="#2d55dc"/>
<path d="M323.8 289.1L326.7 294.1L320.9 294.1Z" fill="#2d55dc"/>
<path d="M315.3 298.0L318.2 303.0L312.4 303.0Z" fill="#2d55dc"/>
<path d="M327.0 276.5L329.9 281.5L324.1 281.5Z" fill="#2d55dc"/>
<path d="M322.2 281.2L325.1 286.2L319.3 286.2Z" fill="#2d55dc"/>
<path d="M353.9 292.9L356.8 297.9L351.0 297.9Z" fill="#2d55dc"/>
<path d="M320.5 273.8L323.4 278.8L317.6 278.8Z" fill="#2d55dc"/>
<path d="M363.1 254.6L366.0 259.6L360.2 259.6Z" fill="#2d55dc"/>
<path d="M357.6 271.4L360.5 276.4L354.7 276.4Z" fill="#2d55dc"/>
<path d="M346.5 277.3L349.4 282.3L343.6 282.3Z" fill="#2d55dc"/>
<path d="M353.1 278.0L356.0 283.0L350.2 283.0Z" fill="#2d55dc"/>
<path d="M356.1 280.2L359.0 285.2L353.2 285.2Z" fill="#2d55dc"/>
<path d="M368.7 278.0L371.6 283.0L365.8 283.0Z" fill="#2d55dc"/>
<path d="M356.1 289.9L359.0 294.9L353.2 294.9Z" fill="#2d55dc"/>
<rect x="165.6" y="229.1" width="4.6" height="4.8" fill="#2d55dc"/>
<rect x="148.5" y="286.7" width="4.6" height="4.8" fill="#2d55dc"/>
<rect x="209.9" y="268.2" width="4.6" height="4.8" fill="#2d55dc"/>
<rect x="223.8" y="300.2" width="4.6" height="4.8" fill="#2d55dc"/>
<rect x="201.7" y="306.3" width="4.6" height="4.8" fill="#2d55dc"/>
<rect x="194.7" y="307.8" width="4.6" height="4.8" fill="#2d55dc"/>
<rect x="268.8" y="323.4" width="4.6" height="4.8" fill="#2d55dc"/>
<rect x="274.8" y="365.0" width="4.6" height="4.8" fill="#2d55dc"/>
<path d="M173.2 249.3L176.5 251.7L175.3 255.6L171.1 255.6L169.9 251.7Z" fill="#2d55dc"/>
<path d="M213.6 291.8L216.9 294.2L215.7 298.1L211.5 298.1L210.3 294.2Z" fill="#2d55dc"/>
<path d="M222.3 312.8L225.6 315.2L224.4 319.1L220.2 319.1L219.0 315.2Z" fill="#2d55dc"/>
<path d="M220.8 325.7L224.1 328.1L222.9 332.0L218.7 332.0L217.5 328.1Z" fill="#2d55dc"/>
<circle cx="246.9" cy="332.0" r="3.0" fill="#2d55dc"/>
<rect x="406.2" y="286.4" width="5.4" height="5.4" fill="#ffff00"/>
<rect x="390.0" y="291.4" width="5.4" height="5.4" fill="#ffff00"/>
<rect x="397.1" y="300.9" width="5.4" height="5.4" fill="#ffff00"/>
<rect x="401.9" y="298.3" width="5.4" height="5.4" fill="#ffff00"/>
<rect x="372.8" y="300.7" width="5.4" height="5.4" fill="#ffff00"/>
<rect x="366.3" y="301.5" width="5.4" height="5.4" fill="#ffff00"/>
<rect x="380.9" y="301.3" width="5.4" height="5.4" fill="#ffff00"/>
<rect x="366.0" y="316.0" width="5.4" height="5.4" fill="#ffff00"/>
<rect x="373.4" y="313.8" width="5.4" height="5.4" fill="#ffff00"/>
<rect x="391.1" y="313.8" width="5.4" height="5.4" fill="#ffff00"/>
<rect x="393.4" y="321.2" width="5.4" height="5.4" fill="#ffff00"/>
<rect x="403.7" y="324.1" width="5.4" height="5.4" fill="#ffff00"/>
<rect x="406.7" y="324.1" width="5.4" height="5.4" fill="#ffff00"/>
<rect x="409.2" y="309.3" width="5.4" height="5.4" fill="#ffff00"/>
<rect x="410.7" y="318.9" width="5.4" height="5.4" fill="#ffff00"/>
<rect x="377.5" y="336.4" width="5.4" height="5.4" fill="#ffff00"/>
<rect x="400.0" y="335.5" width="5.4" height="5.4" fill="#ffff00"/>
<rect x="402.2" y="344.8" width="5.4" height="5.4" fill="#ffff00"/>
<rect x="431.7" y="277.9" width="5.4" height="5.4" fill="#ffff00"/>
<rect x="434.4" y="296.9" width="5.4" height="5.4" fill="#ffff00"/>
<rect x="424.5" y="301.1" width="5.4" height="5.4" fill="#ffff00"/>
<rect x="432.9" y="305.2" width="5.4" height="5.4" fill="#ffff00"/>
<rect x="415.0" y="311.4" width="5.4" height="5.4" fill="#ffff00"/>
<rect x="422.0" y="311.4" width="5.4" height="5.4" fill="#ffff00"/>
<rect x="435.4" y="326.1" width="5.4" height="5.4" fill="#ffff00"/>
<rect x="438.9" y="333.8" width="5.4" height="5.4" fill="#ffff00"/>
<rect x="422.0" y="340.9" width="5.4" height="5.4" fill="#ffff00"/>
<rect x="377.5" y="364.7" width="5.4" height="5.4" fill="#ffff00"/>
<rect x="396.8" y="357.2" width="5.4" height="5.4" fill="#ffff00"/>
<rect x="329.5" y="296.9" width="5.4" height="5.4" fill="#ffff00"/>
<rect x="348.0" y="301.0" width="5.4" height="5.4" fill="#ffff00"/>
<circle cx="365.9" cy="310.0" r="4.2" fill="#ff8a00"/>
<circle cx="351.7" cy="315.0" r="4.2" fill="#ff8a00"/>
<circle cx="359.8" cy="316.5" r="4.2" fill="#ff8a00"/>
<circle cx="356.1" cy="322.4" r="4.2" fill="#ff8a00"/>
<circle cx="367.2" cy="325.3" r="4.2" fill="#ff8a00"/>
<circle cx="382.7" cy="325.3" r="4.2" fill="#ff8a00"/>
<path d="M240.4 308.9H274.1M240.4 304.9V312.9M274.1 304.9V312.9" stroke="#cc6c6c" stroke-width="1.0" fill="none"/>
<path d="M259.9 320.3H285.1M259.9 316.3V324.3M285.1 316.3V324.3" stroke="#cc6c6c" stroke-width="1.0" fill="none"/>
<path d="M321.4 294.2H349.5M321.4 290.2V298.2M349.5 290.2V298.2" stroke="#cc6c6c" stroke-width="1.0" fill="none"/>
<path d="M321.4 304.6H349.5M321.4 300.6V308.6M349.5 300.6V308.6" stroke="#cc6c6c" stroke-width="1.0" fill="none"/>
<path d="M313.4 306.5H349.5M313.4 302.5V310.5M349.5 302.5V310.5" stroke="#cc6c6c" stroke-width="1.0" fill="none"/>
<path d="M299.8 309.0H326.7M299.8 305.0V313.0M326.7 305.0V313.0" stroke="#cc6c6c" stroke-width="1.0" fill="none"/>
<path d="M315.9 326.8H343.8M315.9 322.8V330.8M343.8 322.8V330.8" stroke="#cc6c6c" stroke-width="1.0" fill="none"/>
<circle cx="257.1" cy="308.9" r="3.8" fill="#b01818"/>
<circle cx="272.5" cy="320.3" r="3.8" fill="#b01818"/>
<circle cx="335.3" cy="294.2" r="3.8" fill="#b01818"/>
<circle cx="335.3" cy="304.6" r="3.8" fill="#b01818"/>
<circle cx="331.2" cy="306.5" r="3.8" fill="#b01818"/>
<circle cx="312.8" cy="309.0" r="3.8" fill="#b01818"/>
<circle cx="329.5" cy="326.8" r="3.8" fill="#b01818"/>
<circle cx="205.2" cy="262.0" r="3.7" fill="none" stroke="#b01818" stroke-width="1.75"/>
<circle cx="245.4" cy="248.6" r="3.7" fill="none" stroke="#b01818" stroke-width="1.75"/>
<circle cx="234.5" cy="277.0" r="3.7" fill="none" stroke="#b01818" stroke-width="1.75"/>
<circle cx="317.2" cy="262.8" r="3.7" fill="none" stroke="#b01818" stroke-width="1.75"/>
<circle cx="300.3" cy="280.8" r="3.7" fill="none" stroke="#b01818" stroke-width="1.75"/>
<circle cx="379.8" cy="306.2" r="3.7" fill="none" stroke="#b01818" stroke-width="1.75"/>
<path d="M356.1 257.2L357.5 261.1L361.6 261.2L358.3 263.7L359.5 267.7L356.1 265.3L352.7 267.7L353.9 263.7L350.6 261.2L354.7 261.1Z" fill="none" stroke="#b01818" stroke-width="1.6" stroke-linejoin="round"/>
</g>
<rect x="53.7" y="1.5" width="418.6" height="418.3" fill="none" stroke="#111" stroke-width="1.4"/>
<path d="M53.7 211.0H472.3" stroke="#111" stroke-width="1.4"/>
<text transform="matrix(0.3600 0.0000 0.0000 0.4407 28.3200 -7.4000)" x="20" y="80" font-family="Liberation Serif, serif" font-size="40" fill="#000" stroke="#000" stroke-width="0.8" letter-spacing="0">1</text>
<text transform="matrix(0.5125 0.0000 0.0000 0.4519 8.3375 45.3519)" x="20" y="80" font-family="Liberation Serif, serif" font-size="40" fill="#000" stroke="#000" stroke-width="0.8" letter-spacing="0">0.5</text>
<text transform="matrix(0.5000 0.0000 0.0000 0.4731 24.6000 95.4538)" x="20" y="80" font-family="Liberation Serif, serif" font-size="40" fill="#000" stroke="#000" stroke-width="0.8" letter-spacing="0">0</text>
<text transform="matrix(0.4979 0.0000 0.0000 0.4481 9.3438 149.8481)" x="20" y="80" font-family="Liberation Serif, serif" font-size="40" fill="#000" stroke="#000" stroke-width="0.8" letter-spacing="0">0.5</text>
<text transform="matrix(0.3600 0.0000 0.0000 0.4556 27.6200 200.8000)" x="20" y="80" font-family="Liberation Serif, serif" font-size="40" fill="#000" stroke="#000" stroke-width="0.8" letter-spacing="0">1</text>
<text transform="matrix(0.5104 0.0000 0.0000 0.4556 6.8813 253.8556)" x="20" y="80" font-family="Liberation Serif, serif" font-size="40" fill="#000" stroke="#000" stroke-width="0.8" letter-spacing="0">0.5</text>
<text transform="matrix(0.5111 0.0000 0.0000 0.4808 22.9667 304.0385)" x="20" y="80" font-family="Liberation Serif, serif" font-size="40" fill="#000" stroke="#000" stroke-width="0.8" letter-spacing="0">0</text>
<text transform="matrix(0.5104 0.0000 0.0000 0.4481 6.8813 358.8481)" x="20" y="80" font-family="Liberation Serif, serif" font-size="40" fill="#000" stroke="#000" stroke-width="0.8" letter-spacing="0">0.5</text>
<text transform="matrix(0.5471 0.0000 0.0000 0.4370 155.7118 405.6000)" x="20" y="80" font-family="Liberation Serif, serif" font-size="40" fill="#000" stroke="#000" stroke-width="0.8" letter-spacing="0">2</text>
<text transform="matrix(0.4200 0.0000 0.0000 0.4556 299.0400 404.6000)" x="20" y="80" font-family="Liberation Serif, serif" font-size="40" fill="#000" stroke="#000" stroke-width="0.8" letter-spacing="0">1</text>
<text transform="matrix(0.5278 0.0000 0.0000 0.4846 428.4167 402.5308)" x="20" y="80" font-family="Liberation Serif, serif" font-size="40" fill="#000" stroke="#000" stroke-width="0.8" letter-spacing="0">0</text>
<text transform="matrix(0.3182 0.0000 0.0000 0.5057 225.4000 423.2086)" x="20" y="80" font-family="Liberation Serif, serif" font-size="40" fill="#000" stroke="#000" stroke-width="1.2" letter-spacing="0">[</text>
<text transform="matrix(0.4525 0.0000 0.0000 0.4143 228.4975 429.3429)" x="20" y="80" font-family="Liberation Serif, serif" font-size="40" fill="#000" stroke="#000" stroke-width="0.6" letter-spacing="2.0">Fe</text>
<text transform="matrix(0.3852 0.0000 0.0000 0.4143 260.7111 429.3429)" x="20" y="80" font-family="Liberation Serif, serif" font-size="40" fill="#000" stroke="#000" stroke-width="0.6" letter-spacing="0">H</text>
<text transform="matrix(0.4200 0.0000 0.0000 0.4800 272.6800 425.1200)" x="20" y="80" font-family="Liberation Serif, serif" font-size="40" fill="#000" stroke="#000" stroke-width="1.2" letter-spacing="0">]</text>
<text transform="matrix(0.0000 -0.2909 0.4857 0.0000 -23.4714 143.0000)" x="20" y="80" font-family="Liberation Serif, serif" font-size="40" fill="#000" stroke="#000" stroke-width="1.2" letter-spacing="0">[</text>
<text transform="matrix(0.0000 -0.4021 0.4250 0.0000 -19.3250 139.6447)" x="20" y="80" font-family="Liberation Serif, serif" font-size="40" fill="#000" stroke="#000" stroke-width="0.4" letter-spacing="4.0">Ba</text>
<text transform="matrix(0.0000 -0.3976 0.4143 0.0000 -18.6571 106.8500)" x="20" y="80" font-family="Liberation Serif, serif" font-size="40" fill="#000" stroke="#000" stroke-width="0.4" letter-spacing="4.0">Fe</text>
<text transform="matrix(0.0000 -0.4000 0.4771 0.0000 -22.8343 86.9000)" x="20" y="80" font-family="Liberation Serif, serif" font-size="40" fill="#000" stroke="#000" stroke-width="1.2" letter-spacing="0">]</text>
<text transform="matrix(0.0000 -0.2909 0.4857 0.0000 -23.4714 352.0000)" x="20" y="80" font-family="Liberation Serif, serif" font-size="40" fill="#000" stroke="#000" stroke-width="1.2" letter-spacing="0">[</text>
<text transform="matrix(0.0000 -0.4170 0.4143 0.0000 -18.6571 349.0574)" x="20" y="80" font-family="Liberation Serif, serif" font-size="40" fill="#000" stroke="#000" stroke-width="0.4" letter-spacing="4.0">Eu</text>
<text transform="matrix(0.0000 -0.4071 0.4143 0.0000 -18.6571 316.1500)" x="20" y="80" font-family="Liberation Serif, serif" font-size="40" fill="#000" stroke="#000" stroke-width="0.4" letter-spacing="4.0">Fe</text>
<text transform="matrix(0.0000 -0.4000 0.4771 0.0000 -22.8343 295.7000)" x="20" y="80" font-family="Liberation Serif, serif" font-size="40" fill="#000" stroke="#000" stroke-width="1.2" letter-spacing="0">]</text>
<path d="M258.0 465.3L267.0 450.7" stroke="#000" stroke-width="1.35"/>
<path d="M1.5 100.7L17.8 109.4" stroke="#000" stroke-width="1.35"/>
<path d="M1.5 309.6L17.8 318.9" stroke="#000" stroke-width="1.35"/>
<rect x="7.7" y="179.4" width="8.9" height="1.4" fill="#000"/>
<rect x="5.0" y="388.5" width="9.2" height="1.4" fill="#000"/>
<rect x="154.5" y="435.7" width="10.4" height="1.4" fill="#000"/>
<rect x="294.1" y="435.8" width="9.7" height="1.4" fill="#000"/>
</svg>
</body></html>
